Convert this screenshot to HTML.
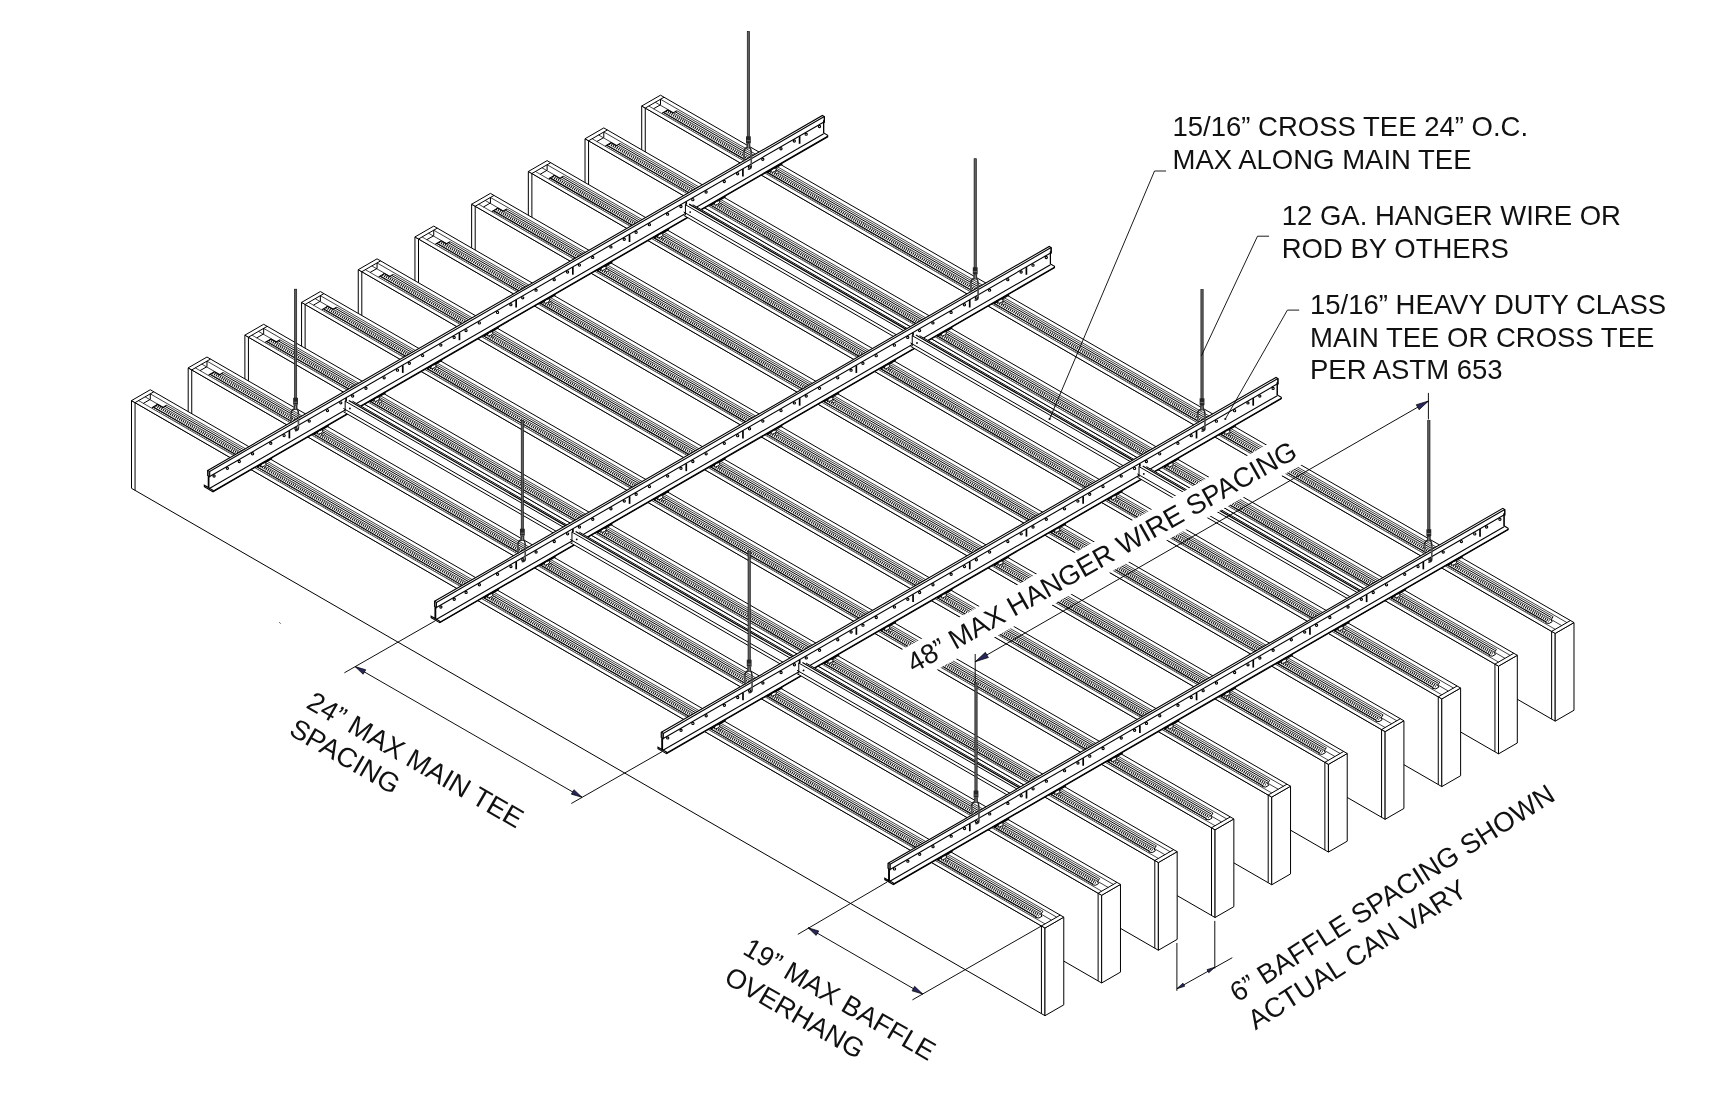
<!DOCTYPE html>
<html><head><meta charset="utf-8"><title>Baffle ceiling isometric</title>
<style>
html,body{margin:0;padding:0;background:#fff;}
body{width:1710px;height:1094px;overflow:hidden;font-family:"Liberation Sans",sans-serif;}
svg{display:block}
svg text{font-family:"Liberation Sans",sans-serif;fill:#111;}
</style></head><body>
<svg width="1710" height="1094" viewBox="0 0 1710 1094">
<rect width="1710" height="1094" fill="#fff"/>
<g stroke-linecap="butt" stroke-linejoin="miter">
<polygon points="641.71,106.03 1555.19,633.43 1555.19,721.13 641.71,193.73" fill="#fff" stroke="#000" stroke-width="1.0" />
<polygon points="1555.19,633.43 1573.99,622.58 1573.99,710.28 1555.19,721.13" fill="#fff" stroke="#000" stroke-width="1.0" />
<polygon points="641.71,106.03 1555.19,633.43 1573.99,622.58 660.5,95.18" fill="#fff" stroke="#000" stroke-width="1.0" />
<line x1="645.26" y1="108.08" x2="645.26" y2="195.78" stroke="#000" stroke-width="1.0" />
<line x1="1551.64" y1="631.38" x2="1551.64" y2="719.08" stroke="#000" stroke-width="1.0" />
<line x1="645.26" y1="108.08" x2="664.05" y2="97.23" stroke="#000" stroke-width="1.0" />
<line x1="1551.64" y1="631.38" x2="1570.44" y2="620.53" stroke="#000" stroke-width="1.0" />
<line x1="648.81" y1="106.03" x2="1555.19" y2="629.33" stroke="#000" stroke-width="0.7" />
<line x1="660.5" y1="99.28" x2="1566.89" y2="622.58" stroke="#000" stroke-width="0.75" />
<line x1="655.31" y1="102.28" x2="1561.69" y2="625.58" stroke="#000" stroke-width="0.75" />
<line x1="660.5" y1="99.28" x2="660.5" y2="104.78" stroke="#000" stroke-width="1.0" />
<line x1="660.5" y1="104.78" x2="653.57" y2="108.78" stroke="#000" stroke-width="1.0" />
<line x1="662.62" y1="112.96" x2="1545.8" y2="622.86" stroke="#000" stroke-width="1.4" stroke-dasharray="0.45 1.63"/>
<line x1="666.13" y1="110.93" x2="1549.3" y2="620.83" stroke="#000" stroke-width="2.8" stroke-dasharray="1.0 1.08"/>
<line x1="663.53" y1="112.43" x2="1546.71" y2="622.33" stroke="#000" stroke-width="1.2" />
<line x1="675.14" y1="111.73" x2="1551.38" y2="617.63" stroke="#000" stroke-width="1.0" />
<line x1="676.87" y1="110.73" x2="1553.12" y2="616.63" stroke="#000" stroke-width="0.75" />
<polyline points="662.15,113.23 667.86,109.93 673.06,112.93 676.87,110.73" fill="none" stroke="#000" stroke-width="1.1" />
<polyline points="1545.67,622.93 1549.13,623.43 1552.16,621.68 1551.04,619.83 1553.12,616.63" fill="none" stroke="#000" stroke-width="1.0" />
<polygon points="585.02,138.76 1498.5,666.16 1498.5,753.86 585.02,226.46" fill="#fff" stroke="#000" stroke-width="1.0" />
<polygon points="1498.5,666.16 1517.3,655.31 1517.3,743.01 1498.5,753.86" fill="#fff" stroke="#000" stroke-width="1.0" />
<polygon points="585.02,138.76 1498.5,666.16 1517.3,655.31 603.81,127.91" fill="#fff" stroke="#000" stroke-width="1.0" />
<line x1="588.57" y1="140.81" x2="588.57" y2="228.51" stroke="#000" stroke-width="1.0" />
<line x1="1494.95" y1="664.11" x2="1494.95" y2="751.81" stroke="#000" stroke-width="1.0" />
<line x1="588.57" y1="140.81" x2="607.36" y2="129.96" stroke="#000" stroke-width="1.0" />
<line x1="1494.95" y1="664.11" x2="1513.75" y2="653.26" stroke="#000" stroke-width="1.0" />
<line x1="592.12" y1="138.76" x2="1498.5" y2="662.06" stroke="#000" stroke-width="0.7" />
<line x1="603.81" y1="132.01" x2="1510.2" y2="655.31" stroke="#000" stroke-width="0.75" />
<line x1="598.62" y1="135.01" x2="1505" y2="658.31" stroke="#000" stroke-width="0.75" />
<line x1="603.81" y1="132.01" x2="603.81" y2="137.51" stroke="#000" stroke-width="1.0" />
<line x1="603.81" y1="137.51" x2="596.88" y2="141.51" stroke="#000" stroke-width="1.0" />
<line x1="605.93" y1="145.69" x2="1489.11" y2="655.59" stroke="#000" stroke-width="1.4" stroke-dasharray="0.45 1.63"/>
<line x1="609.44" y1="143.66" x2="1492.61" y2="653.56" stroke="#000" stroke-width="2.8" stroke-dasharray="1.0 1.08"/>
<line x1="606.84" y1="145.16" x2="1490.02" y2="655.06" stroke="#000" stroke-width="1.2" />
<line x1="618.45" y1="144.46" x2="1494.69" y2="650.36" stroke="#000" stroke-width="1.0" />
<line x1="620.18" y1="143.46" x2="1496.43" y2="649.36" stroke="#000" stroke-width="0.75" />
<polyline points="605.46,145.96 611.17,142.66 616.37,145.66 620.18,143.46" fill="none" stroke="#000" stroke-width="1.1" />
<polyline points="1488.98,655.66 1492.44,656.16 1495.47,654.41 1494.35,652.56 1496.43,649.36" fill="none" stroke="#000" stroke-width="1.0" />
<polygon points="528.33,171.49 1441.81,698.89 1441.81,786.59 528.33,259.19" fill="#fff" stroke="#000" stroke-width="1.0" />
<polygon points="1441.81,698.89 1460.61,688.04 1460.61,775.74 1441.81,786.59" fill="#fff" stroke="#000" stroke-width="1.0" />
<polygon points="528.33,171.49 1441.81,698.89 1460.61,688.04 547.12,160.64" fill="#fff" stroke="#000" stroke-width="1.0" />
<line x1="531.88" y1="173.54" x2="531.88" y2="261.24" stroke="#000" stroke-width="1.0" />
<line x1="1438.26" y1="696.84" x2="1438.26" y2="784.54" stroke="#000" stroke-width="1.0" />
<line x1="531.88" y1="173.54" x2="550.67" y2="162.69" stroke="#000" stroke-width="1.0" />
<line x1="1438.26" y1="696.84" x2="1457.06" y2="685.99" stroke="#000" stroke-width="1.0" />
<line x1="535.43" y1="171.49" x2="1441.81" y2="694.79" stroke="#000" stroke-width="0.7" />
<line x1="547.12" y1="164.74" x2="1453.51" y2="688.04" stroke="#000" stroke-width="0.75" />
<line x1="541.93" y1="167.74" x2="1448.31" y2="691.04" stroke="#000" stroke-width="0.75" />
<line x1="547.12" y1="164.74" x2="547.12" y2="170.24" stroke="#000" stroke-width="1.0" />
<line x1="547.12" y1="170.24" x2="540.19" y2="174.24" stroke="#000" stroke-width="1.0" />
<line x1="549.24" y1="178.42" x2="1432.42" y2="688.32" stroke="#000" stroke-width="1.4" stroke-dasharray="0.45 1.63"/>
<line x1="552.75" y1="176.39" x2="1435.92" y2="686.29" stroke="#000" stroke-width="2.8" stroke-dasharray="1.0 1.08"/>
<line x1="550.15" y1="177.89" x2="1433.33" y2="687.79" stroke="#000" stroke-width="1.2" />
<line x1="561.76" y1="177.19" x2="1438" y2="683.09" stroke="#000" stroke-width="1.0" />
<line x1="563.49" y1="176.19" x2="1439.74" y2="682.09" stroke="#000" stroke-width="0.75" />
<polyline points="548.77,178.69 554.48,175.39 559.68,178.39 563.49,176.19" fill="none" stroke="#000" stroke-width="1.1" />
<polyline points="1432.29,688.39 1435.75,688.89 1438.78,687.14 1437.66,685.29 1439.74,682.09" fill="none" stroke="#000" stroke-width="1.0" />
<polygon points="471.64,204.22 1385.12,731.62 1385.12,819.32 471.64,291.92" fill="#fff" stroke="#000" stroke-width="1.0" />
<polygon points="1385.12,731.62 1403.92,720.77 1403.92,808.47 1385.12,819.32" fill="#fff" stroke="#000" stroke-width="1.0" />
<polygon points="471.64,204.22 1385.12,731.62 1403.92,720.77 490.43,193.37" fill="#fff" stroke="#000" stroke-width="1.0" />
<line x1="475.19" y1="206.27" x2="475.19" y2="293.97" stroke="#000" stroke-width="1.0" />
<line x1="1381.57" y1="729.57" x2="1381.57" y2="817.27" stroke="#000" stroke-width="1.0" />
<line x1="475.19" y1="206.27" x2="493.98" y2="195.42" stroke="#000" stroke-width="1.0" />
<line x1="1381.57" y1="729.57" x2="1400.37" y2="718.72" stroke="#000" stroke-width="1.0" />
<line x1="478.74" y1="204.22" x2="1385.12" y2="727.52" stroke="#000" stroke-width="0.7" />
<line x1="490.43" y1="197.47" x2="1396.82" y2="720.77" stroke="#000" stroke-width="0.75" />
<line x1="485.24" y1="200.47" x2="1391.62" y2="723.77" stroke="#000" stroke-width="0.75" />
<line x1="490.43" y1="197.47" x2="490.43" y2="202.97" stroke="#000" stroke-width="1.0" />
<line x1="490.43" y1="202.97" x2="483.5" y2="206.97" stroke="#000" stroke-width="1.0" />
<line x1="492.55" y1="211.15" x2="1375.73" y2="721.05" stroke="#000" stroke-width="1.4" stroke-dasharray="0.45 1.63"/>
<line x1="496.06" y1="209.12" x2="1379.23" y2="719.02" stroke="#000" stroke-width="2.8" stroke-dasharray="1.0 1.08"/>
<line x1="493.46" y1="210.62" x2="1376.64" y2="720.52" stroke="#000" stroke-width="1.2" />
<line x1="505.07" y1="209.92" x2="1381.31" y2="715.82" stroke="#000" stroke-width="1.0" />
<line x1="506.8" y1="208.92" x2="1383.05" y2="714.82" stroke="#000" stroke-width="0.75" />
<polyline points="492.08,211.42 497.79,208.12 502.99,211.12 506.8,208.92" fill="none" stroke="#000" stroke-width="1.1" />
<polyline points="1375.6,721.12 1379.06,721.62 1382.09,719.87 1380.97,718.02 1383.05,714.82" fill="none" stroke="#000" stroke-width="1.0" />
<polygon points="414.95,236.95 1328.43,764.35 1328.43,852.05 414.95,324.65" fill="#fff" stroke="#000" stroke-width="1.0" />
<polygon points="1328.43,764.35 1347.23,753.5 1347.23,841.2 1328.43,852.05" fill="#fff" stroke="#000" stroke-width="1.0" />
<polygon points="414.95,236.95 1328.43,764.35 1347.23,753.5 433.74,226.1" fill="#fff" stroke="#000" stroke-width="1.0" />
<line x1="418.5" y1="239" x2="418.5" y2="326.7" stroke="#000" stroke-width="1.0" />
<line x1="1324.88" y1="762.3" x2="1324.88" y2="850" stroke="#000" stroke-width="1.0" />
<line x1="418.5" y1="239" x2="437.29" y2="228.15" stroke="#000" stroke-width="1.0" />
<line x1="1324.88" y1="762.3" x2="1343.68" y2="751.45" stroke="#000" stroke-width="1.0" />
<line x1="422.05" y1="236.95" x2="1328.43" y2="760.25" stroke="#000" stroke-width="0.7" />
<line x1="433.74" y1="230.2" x2="1340.13" y2="753.5" stroke="#000" stroke-width="0.75" />
<line x1="428.55" y1="233.2" x2="1334.93" y2="756.5" stroke="#000" stroke-width="0.75" />
<line x1="433.74" y1="230.2" x2="433.74" y2="235.7" stroke="#000" stroke-width="1.0" />
<line x1="433.74" y1="235.7" x2="426.81" y2="239.7" stroke="#000" stroke-width="1.0" />
<line x1="435.86" y1="243.88" x2="1319.04" y2="753.78" stroke="#000" stroke-width="1.4" stroke-dasharray="0.45 1.63"/>
<line x1="439.37" y1="241.85" x2="1322.54" y2="751.75" stroke="#000" stroke-width="2.8" stroke-dasharray="1.0 1.08"/>
<line x1="436.77" y1="243.35" x2="1319.95" y2="753.25" stroke="#000" stroke-width="1.2" />
<line x1="448.38" y1="242.65" x2="1324.62" y2="748.55" stroke="#000" stroke-width="1.0" />
<line x1="450.11" y1="241.65" x2="1326.36" y2="747.55" stroke="#000" stroke-width="0.75" />
<polyline points="435.39,244.15 441.1,240.85 446.3,243.85 450.11,241.65" fill="none" stroke="#000" stroke-width="1.1" />
<polyline points="1318.91,753.85 1322.37,754.35 1325.4,752.6 1324.28,750.75 1326.36,747.55" fill="none" stroke="#000" stroke-width="1.0" />
<polygon points="358.26,269.68 1271.74,797.08 1271.74,884.78 358.26,357.38" fill="#fff" stroke="#000" stroke-width="1.0" />
<polygon points="1271.74,797.08 1290.54,786.23 1290.54,873.93 1271.74,884.78" fill="#fff" stroke="#000" stroke-width="1.0" />
<polygon points="358.26,269.68 1271.74,797.08 1290.54,786.23 377.05,258.83" fill="#fff" stroke="#000" stroke-width="1.0" />
<line x1="361.81" y1="271.73" x2="361.81" y2="359.43" stroke="#000" stroke-width="1.0" />
<line x1="1268.19" y1="795.03" x2="1268.19" y2="882.73" stroke="#000" stroke-width="1.0" />
<line x1="361.81" y1="271.73" x2="380.6" y2="260.88" stroke="#000" stroke-width="1.0" />
<line x1="1268.19" y1="795.03" x2="1286.99" y2="784.18" stroke="#000" stroke-width="1.0" />
<line x1="365.36" y1="269.68" x2="1271.74" y2="792.98" stroke="#000" stroke-width="0.7" />
<line x1="377.05" y1="262.93" x2="1283.44" y2="786.23" stroke="#000" stroke-width="0.75" />
<line x1="371.86" y1="265.93" x2="1278.24" y2="789.23" stroke="#000" stroke-width="0.75" />
<line x1="377.05" y1="262.93" x2="377.05" y2="268.43" stroke="#000" stroke-width="1.0" />
<line x1="377.05" y1="268.43" x2="370.12" y2="272.43" stroke="#000" stroke-width="1.0" />
<line x1="379.17" y1="276.61" x2="1262.35" y2="786.5" stroke="#000" stroke-width="1.4" stroke-dasharray="0.45 1.63"/>
<line x1="382.68" y1="274.58" x2="1265.85" y2="784.48" stroke="#000" stroke-width="2.8" stroke-dasharray="1.0 1.08"/>
<line x1="380.08" y1="276.08" x2="1263.26" y2="785.98" stroke="#000" stroke-width="1.2" />
<line x1="391.69" y1="275.38" x2="1267.93" y2="781.28" stroke="#000" stroke-width="1.0" />
<line x1="393.42" y1="274.38" x2="1269.67" y2="780.28" stroke="#000" stroke-width="0.75" />
<polyline points="378.7,276.88 384.41,273.58 389.61,276.58 393.42,274.38" fill="none" stroke="#000" stroke-width="1.1" />
<polyline points="1262.22,786.58 1265.68,787.08 1268.71,785.33 1267.59,783.48 1269.67,780.28" fill="none" stroke="#000" stroke-width="1.0" />
<polygon points="301.57,302.41 1215.05,829.81 1215.05,917.51 301.57,390.11" fill="#fff" stroke="#000" stroke-width="1.0" />
<polygon points="1215.05,829.81 1233.85,818.96 1233.85,906.66 1215.05,917.51" fill="#fff" stroke="#000" stroke-width="1.0" />
<polygon points="301.57,302.41 1215.05,829.81 1233.85,818.96 320.36,291.56" fill="#fff" stroke="#000" stroke-width="1.0" />
<line x1="305.12" y1="304.46" x2="305.12" y2="392.16" stroke="#000" stroke-width="1.0" />
<line x1="1211.5" y1="827.76" x2="1211.5" y2="915.46" stroke="#000" stroke-width="1.0" />
<line x1="305.12" y1="304.46" x2="323.91" y2="293.61" stroke="#000" stroke-width="1.0" />
<line x1="1211.5" y1="827.76" x2="1230.3" y2="816.91" stroke="#000" stroke-width="1.0" />
<line x1="308.67" y1="302.41" x2="1215.05" y2="825.71" stroke="#000" stroke-width="0.7" />
<line x1="320.36" y1="295.66" x2="1226.75" y2="818.96" stroke="#000" stroke-width="0.75" />
<line x1="315.17" y1="298.66" x2="1221.55" y2="821.96" stroke="#000" stroke-width="0.75" />
<line x1="320.36" y1="295.66" x2="320.36" y2="301.16" stroke="#000" stroke-width="1.0" />
<line x1="320.36" y1="301.16" x2="313.43" y2="305.16" stroke="#000" stroke-width="1.0" />
<line x1="322.48" y1="309.34" x2="1205.66" y2="819.24" stroke="#000" stroke-width="1.4" stroke-dasharray="0.45 1.63"/>
<line x1="325.99" y1="307.31" x2="1209.16" y2="817.21" stroke="#000" stroke-width="2.8" stroke-dasharray="1.0 1.08"/>
<line x1="323.39" y1="308.81" x2="1206.57" y2="818.71" stroke="#000" stroke-width="1.2" />
<line x1="335" y1="308.11" x2="1211.24" y2="814.01" stroke="#000" stroke-width="1.0" />
<line x1="336.73" y1="307.11" x2="1212.98" y2="813.01" stroke="#000" stroke-width="0.75" />
<polyline points="322.01,309.61 327.72,306.31 332.92,309.31 336.73,307.11" fill="none" stroke="#000" stroke-width="1.1" />
<polyline points="1205.53,819.31 1208.99,819.81 1212.02,818.06 1210.9,816.21 1212.98,813.01" fill="none" stroke="#000" stroke-width="1.0" />
<polygon points="244.88,335.14 1158.36,862.54 1158.36,950.24 244.88,422.84" fill="#fff" stroke="#000" stroke-width="1.0" />
<polygon points="1158.36,862.54 1177.16,851.69 1177.16,939.39 1158.36,950.24" fill="#fff" stroke="#000" stroke-width="1.0" />
<polygon points="244.88,335.14 1158.36,862.54 1177.16,851.69 263.67,324.29" fill="#fff" stroke="#000" stroke-width="1.0" />
<line x1="248.43" y1="337.19" x2="248.43" y2="424.89" stroke="#000" stroke-width="1.0" />
<line x1="1154.81" y1="860.49" x2="1154.81" y2="948.19" stroke="#000" stroke-width="1.0" />
<line x1="248.43" y1="337.19" x2="267.22" y2="326.34" stroke="#000" stroke-width="1.0" />
<line x1="1154.81" y1="860.49" x2="1173.61" y2="849.64" stroke="#000" stroke-width="1.0" />
<line x1="251.98" y1="335.14" x2="1158.36" y2="858.44" stroke="#000" stroke-width="0.7" />
<line x1="263.67" y1="328.39" x2="1170.05" y2="851.69" stroke="#000" stroke-width="0.75" />
<line x1="258.48" y1="331.39" x2="1164.86" y2="854.69" stroke="#000" stroke-width="0.75" />
<line x1="263.67" y1="328.39" x2="263.67" y2="333.89" stroke="#000" stroke-width="1.0" />
<line x1="263.67" y1="333.89" x2="256.74" y2="337.89" stroke="#000" stroke-width="1.0" />
<line x1="265.79" y1="342.07" x2="1148.97" y2="851.97" stroke="#000" stroke-width="1.4" stroke-dasharray="0.45 1.63"/>
<line x1="269.3" y1="340.04" x2="1152.47" y2="849.94" stroke="#000" stroke-width="2.8" stroke-dasharray="1.0 1.08"/>
<line x1="266.7" y1="341.54" x2="1149.88" y2="851.44" stroke="#000" stroke-width="1.2" />
<line x1="278.31" y1="340.84" x2="1154.55" y2="846.74" stroke="#000" stroke-width="1.0" />
<line x1="280.04" y1="339.84" x2="1156.29" y2="845.74" stroke="#000" stroke-width="0.75" />
<polyline points="265.32,342.34 271.03,339.04 276.23,342.04 280.04,339.84" fill="none" stroke="#000" stroke-width="1.1" />
<polyline points="1148.84,852.04 1152.3,852.54 1155.33,850.79 1154.21,848.94 1156.29,845.74" fill="none" stroke="#000" stroke-width="1.0" />
<polygon points="188.19,367.87 1101.67,895.27 1101.67,982.97 188.19,455.57" fill="#fff" stroke="#000" stroke-width="1.0" />
<polygon points="1101.67,895.27 1120.47,884.42 1120.47,972.12 1101.67,982.97" fill="#fff" stroke="#000" stroke-width="1.0" />
<polygon points="188.19,367.87 1101.67,895.27 1120.47,884.42 206.98,357.02" fill="#fff" stroke="#000" stroke-width="1.0" />
<line x1="191.74" y1="369.92" x2="191.74" y2="457.62" stroke="#000" stroke-width="1.0" />
<line x1="1098.12" y1="893.22" x2="1098.12" y2="980.92" stroke="#000" stroke-width="1.0" />
<line x1="191.74" y1="369.92" x2="210.53" y2="359.07" stroke="#000" stroke-width="1.0" />
<line x1="1098.12" y1="893.22" x2="1116.92" y2="882.37" stroke="#000" stroke-width="1.0" />
<line x1="195.29" y1="367.87" x2="1101.67" y2="891.17" stroke="#000" stroke-width="0.7" />
<line x1="206.98" y1="361.12" x2="1113.36" y2="884.42" stroke="#000" stroke-width="0.75" />
<line x1="201.79" y1="364.12" x2="1108.17" y2="887.42" stroke="#000" stroke-width="0.75" />
<line x1="206.98" y1="361.12" x2="206.98" y2="366.62" stroke="#000" stroke-width="1.0" />
<line x1="206.98" y1="366.62" x2="200.05" y2="370.62" stroke="#000" stroke-width="1.0" />
<line x1="209.1" y1="374.8" x2="1092.28" y2="884.69" stroke="#000" stroke-width="1.4" stroke-dasharray="0.45 1.63"/>
<line x1="212.61" y1="372.77" x2="1095.78" y2="882.67" stroke="#000" stroke-width="2.8" stroke-dasharray="1.0 1.08"/>
<line x1="210.01" y1="374.27" x2="1093.19" y2="884.17" stroke="#000" stroke-width="1.2" />
<line x1="221.62" y1="373.57" x2="1097.86" y2="879.47" stroke="#000" stroke-width="1.0" />
<line x1="223.35" y1="372.57" x2="1099.6" y2="878.47" stroke="#000" stroke-width="0.75" />
<polyline points="208.63,375.07 214.34,371.77 219.54,374.77 223.35,372.57" fill="none" stroke="#000" stroke-width="1.1" />
<polyline points="1092.15,884.77 1095.61,885.27 1098.64,883.52 1097.52,881.67 1099.6,878.47" fill="none" stroke="#000" stroke-width="1.0" />
<polygon points="131.5,400.6 1044.98,928 1044.98,1015.7 131.5,488.3" fill="#fff" stroke="#000" stroke-width="1.0" />
<polygon points="1044.98,928 1063.78,917.15 1063.78,1004.85 1044.98,1015.7" fill="#fff" stroke="#000" stroke-width="1.0" />
<polygon points="131.5,400.6 1044.98,928 1063.78,917.15 150.29,389.75" fill="#fff" stroke="#000" stroke-width="1.0" />
<line x1="135.05" y1="402.65" x2="135.05" y2="490.35" stroke="#000" stroke-width="1.0" />
<line x1="1041.43" y1="925.95" x2="1041.43" y2="1013.65" stroke="#000" stroke-width="1.0" />
<line x1="135.05" y1="402.65" x2="153.84" y2="391.8" stroke="#000" stroke-width="1.0" />
<line x1="1041.43" y1="925.95" x2="1060.23" y2="915.1" stroke="#000" stroke-width="1.0" />
<line x1="138.6" y1="400.6" x2="1044.98" y2="923.9" stroke="#000" stroke-width="0.7" />
<line x1="150.29" y1="393.85" x2="1056.67" y2="917.15" stroke="#000" stroke-width="0.75" />
<line x1="145.1" y1="396.85" x2="1051.48" y2="920.15" stroke="#000" stroke-width="0.75" />
<line x1="150.29" y1="393.85" x2="150.29" y2="399.35" stroke="#000" stroke-width="1.0" />
<line x1="150.29" y1="399.35" x2="143.36" y2="403.35" stroke="#000" stroke-width="1.0" />
<line x1="152.41" y1="407.53" x2="1035.59" y2="917.42" stroke="#000" stroke-width="1.4" stroke-dasharray="0.45 1.63"/>
<line x1="155.92" y1="405.5" x2="1039.09" y2="915.4" stroke="#000" stroke-width="2.8" stroke-dasharray="1.0 1.08"/>
<line x1="153.32" y1="407" x2="1036.5" y2="916.9" stroke="#000" stroke-width="1.2" />
<line x1="164.93" y1="406.3" x2="1041.17" y2="912.2" stroke="#000" stroke-width="1.0" />
<line x1="166.66" y1="405.3" x2="1042.91" y2="911.2" stroke="#000" stroke-width="0.75" />
<polyline points="151.94,407.8 157.65,404.5 162.85,407.5 166.66,405.3" fill="none" stroke="#000" stroke-width="1.1" />
<polyline points="1035.46,917.5 1038.92,918 1041.95,916.25 1040.83,914.4 1042.91,911.2" fill="none" stroke="#000" stroke-width="1.0" />
<line x1="256.81" y1="466.95" x2="271.97" y2="458.2" stroke="#000" stroke-width="1.9" />
<ellipse cx="263.48" cy="464.8" rx="3.0" ry="1.45" fill="#fff" stroke="#000" stroke-width="0.8" transform="rotate(-30 263.48 464.8)"/>
<ellipse cx="266.88" cy="466.8" rx="1.9" ry="1.0" fill="#fff" stroke="#000" stroke-width="0.7" transform="rotate(-30 266.88 466.8)"/>
<line x1="313.5" y1="434.22" x2="328.66" y2="425.47" stroke="#000" stroke-width="1.9" />
<ellipse cx="320.17" cy="432.07" rx="3.0" ry="1.45" fill="#fff" stroke="#000" stroke-width="0.8" transform="rotate(-30 320.17 432.07)"/>
<ellipse cx="323.57" cy="434.07" rx="1.9" ry="1.0" fill="#fff" stroke="#000" stroke-width="0.7" transform="rotate(-30 323.57 434.07)"/>
<line x1="370.19" y1="401.49" x2="385.35" y2="392.74" stroke="#000" stroke-width="1.9" />
<ellipse cx="376.86" cy="399.34" rx="3.0" ry="1.45" fill="#fff" stroke="#000" stroke-width="0.8" transform="rotate(-30 376.86 399.34)"/>
<ellipse cx="380.26" cy="401.34" rx="1.9" ry="1.0" fill="#fff" stroke="#000" stroke-width="0.7" transform="rotate(-30 380.26 401.34)"/>
<line x1="426.88" y1="368.76" x2="442.04" y2="360.01" stroke="#000" stroke-width="1.9" />
<ellipse cx="433.55" cy="366.61" rx="3.0" ry="1.45" fill="#fff" stroke="#000" stroke-width="0.8" transform="rotate(-30 433.55 366.61)"/>
<ellipse cx="436.95" cy="368.61" rx="1.9" ry="1.0" fill="#fff" stroke="#000" stroke-width="0.7" transform="rotate(-30 436.95 368.61)"/>
<line x1="483.57" y1="336.03" x2="498.73" y2="327.28" stroke="#000" stroke-width="1.9" />
<ellipse cx="490.24" cy="333.88" rx="3.0" ry="1.45" fill="#fff" stroke="#000" stroke-width="0.8" transform="rotate(-30 490.24 333.88)"/>
<ellipse cx="493.64" cy="335.88" rx="1.9" ry="1.0" fill="#fff" stroke="#000" stroke-width="0.7" transform="rotate(-30 493.64 335.88)"/>
<line x1="540.26" y1="303.3" x2="555.42" y2="294.55" stroke="#000" stroke-width="1.9" />
<ellipse cx="546.93" cy="301.15" rx="3.0" ry="1.45" fill="#fff" stroke="#000" stroke-width="0.8" transform="rotate(-30 546.93 301.15)"/>
<ellipse cx="550.33" cy="303.15" rx="1.9" ry="1.0" fill="#fff" stroke="#000" stroke-width="0.7" transform="rotate(-30 550.33 303.15)"/>
<line x1="596.95" y1="270.57" x2="612.11" y2="261.82" stroke="#000" stroke-width="1.9" />
<ellipse cx="603.62" cy="268.42" rx="3.0" ry="1.45" fill="#fff" stroke="#000" stroke-width="0.8" transform="rotate(-30 603.62 268.42)"/>
<ellipse cx="607.02" cy="270.42" rx="1.9" ry="1.0" fill="#fff" stroke="#000" stroke-width="0.7" transform="rotate(-30 607.02 270.42)"/>
<line x1="653.64" y1="237.84" x2="668.8" y2="229.09" stroke="#000" stroke-width="1.9" />
<ellipse cx="660.31" cy="235.69" rx="3.0" ry="1.45" fill="#fff" stroke="#000" stroke-width="0.8" transform="rotate(-30 660.31 235.69)"/>
<ellipse cx="663.71" cy="237.69" rx="1.9" ry="1.0" fill="#fff" stroke="#000" stroke-width="0.7" transform="rotate(-30 663.71 237.69)"/>
<line x1="710.33" y1="205.11" x2="725.49" y2="196.36" stroke="#000" stroke-width="1.9" />
<ellipse cx="717" cy="202.96" rx="3.0" ry="1.45" fill="#fff" stroke="#000" stroke-width="0.8" transform="rotate(-30 717 202.96)"/>
<ellipse cx="720.4" cy="204.96" rx="1.9" ry="1.0" fill="#fff" stroke="#000" stroke-width="0.7" transform="rotate(-30 720.4 204.96)"/>
<line x1="767.02" y1="172.38" x2="782.18" y2="163.63" stroke="#000" stroke-width="1.9" />
<ellipse cx="773.69" cy="170.23" rx="3.0" ry="1.45" fill="#fff" stroke="#000" stroke-width="0.8" transform="rotate(-30 773.69 170.23)"/>
<ellipse cx="777.09" cy="172.23" rx="1.9" ry="1.0" fill="#fff" stroke="#000" stroke-width="0.7" transform="rotate(-30 777.09 172.23)"/>
<line x1="483.63" y1="597.9" x2="498.78" y2="589.15" stroke="#000" stroke-width="1.9" />
<ellipse cx="490.29" cy="595.75" rx="3.0" ry="1.45" fill="#fff" stroke="#000" stroke-width="0.8" transform="rotate(-30 490.29 595.75)"/>
<ellipse cx="493.69" cy="597.75" rx="1.9" ry="1.0" fill="#fff" stroke="#000" stroke-width="0.7" transform="rotate(-30 493.69 597.75)"/>
<line x1="540.32" y1="565.17" x2="555.47" y2="556.42" stroke="#000" stroke-width="1.9" />
<ellipse cx="546.98" cy="563.02" rx="3.0" ry="1.45" fill="#fff" stroke="#000" stroke-width="0.8" transform="rotate(-30 546.98 563.02)"/>
<ellipse cx="550.38" cy="565.02" rx="1.9" ry="1.0" fill="#fff" stroke="#000" stroke-width="0.7" transform="rotate(-30 550.38 565.02)"/>
<line x1="597.01" y1="532.44" x2="612.16" y2="523.69" stroke="#000" stroke-width="1.9" />
<ellipse cx="603.67" cy="530.29" rx="3.0" ry="1.45" fill="#fff" stroke="#000" stroke-width="0.8" transform="rotate(-30 603.67 530.29)"/>
<ellipse cx="607.07" cy="532.29" rx="1.9" ry="1.0" fill="#fff" stroke="#000" stroke-width="0.7" transform="rotate(-30 607.07 532.29)"/>
<line x1="653.7" y1="499.71" x2="668.85" y2="490.96" stroke="#000" stroke-width="1.9" />
<ellipse cx="660.36" cy="497.56" rx="3.0" ry="1.45" fill="#fff" stroke="#000" stroke-width="0.8" transform="rotate(-30 660.36 497.56)"/>
<ellipse cx="663.76" cy="499.56" rx="1.9" ry="1.0" fill="#fff" stroke="#000" stroke-width="0.7" transform="rotate(-30 663.76 499.56)"/>
<line x1="710.39" y1="466.98" x2="725.54" y2="458.23" stroke="#000" stroke-width="1.9" />
<ellipse cx="717.05" cy="464.83" rx="3.0" ry="1.45" fill="#fff" stroke="#000" stroke-width="0.8" transform="rotate(-30 717.05 464.83)"/>
<ellipse cx="720.45" cy="466.83" rx="1.9" ry="1.0" fill="#fff" stroke="#000" stroke-width="0.7" transform="rotate(-30 720.45 466.83)"/>
<line x1="767.08" y1="434.25" x2="782.23" y2="425.5" stroke="#000" stroke-width="1.9" />
<ellipse cx="773.74" cy="432.1" rx="3.0" ry="1.45" fill="#fff" stroke="#000" stroke-width="0.8" transform="rotate(-30 773.74 432.1)"/>
<ellipse cx="777.14" cy="434.1" rx="1.9" ry="1.0" fill="#fff" stroke="#000" stroke-width="0.7" transform="rotate(-30 777.14 434.1)"/>
<line x1="823.77" y1="401.52" x2="838.92" y2="392.77" stroke="#000" stroke-width="1.9" />
<ellipse cx="830.43" cy="399.37" rx="3.0" ry="1.45" fill="#fff" stroke="#000" stroke-width="0.8" transform="rotate(-30 830.43 399.37)"/>
<ellipse cx="833.83" cy="401.37" rx="1.9" ry="1.0" fill="#fff" stroke="#000" stroke-width="0.7" transform="rotate(-30 833.83 401.37)"/>
<line x1="880.46" y1="368.79" x2="895.61" y2="360.04" stroke="#000" stroke-width="1.9" />
<ellipse cx="887.12" cy="366.64" rx="3.0" ry="1.45" fill="#fff" stroke="#000" stroke-width="0.8" transform="rotate(-30 887.12 366.64)"/>
<ellipse cx="890.52" cy="368.64" rx="1.9" ry="1.0" fill="#fff" stroke="#000" stroke-width="0.7" transform="rotate(-30 890.52 368.64)"/>
<line x1="937.15" y1="336.06" x2="952.3" y2="327.31" stroke="#000" stroke-width="1.9" />
<ellipse cx="943.81" cy="333.91" rx="3.0" ry="1.45" fill="#fff" stroke="#000" stroke-width="0.8" transform="rotate(-30 943.81 333.91)"/>
<ellipse cx="947.21" cy="335.91" rx="1.9" ry="1.0" fill="#fff" stroke="#000" stroke-width="0.7" transform="rotate(-30 947.21 335.91)"/>
<line x1="993.84" y1="303.33" x2="1008.99" y2="294.58" stroke="#000" stroke-width="1.9" />
<ellipse cx="1000.5" cy="301.18" rx="3.0" ry="1.45" fill="#fff" stroke="#000" stroke-width="0.8" transform="rotate(-30 1000.5 301.18)"/>
<ellipse cx="1003.9" cy="303.18" rx="1.9" ry="1.0" fill="#fff" stroke="#000" stroke-width="0.7" transform="rotate(-30 1003.9 303.18)"/>
<line x1="710.44" y1="728.85" x2="725.59" y2="720.1" stroke="#000" stroke-width="1.9" />
<ellipse cx="717.11" cy="726.7" rx="3.0" ry="1.45" fill="#fff" stroke="#000" stroke-width="0.8" transform="rotate(-30 717.11 726.7)"/>
<ellipse cx="720.51" cy="728.7" rx="1.9" ry="1.0" fill="#fff" stroke="#000" stroke-width="0.7" transform="rotate(-30 720.51 728.7)"/>
<line x1="767.13" y1="696.12" x2="782.28" y2="687.37" stroke="#000" stroke-width="1.9" />
<ellipse cx="773.8" cy="693.97" rx="3.0" ry="1.45" fill="#fff" stroke="#000" stroke-width="0.8" transform="rotate(-30 773.8 693.97)"/>
<ellipse cx="777.2" cy="695.97" rx="1.9" ry="1.0" fill="#fff" stroke="#000" stroke-width="0.7" transform="rotate(-30 777.2 695.97)"/>
<line x1="823.82" y1="663.39" x2="838.97" y2="654.64" stroke="#000" stroke-width="1.9" />
<ellipse cx="830.49" cy="661.24" rx="3.0" ry="1.45" fill="#fff" stroke="#000" stroke-width="0.8" transform="rotate(-30 830.49 661.24)"/>
<ellipse cx="833.89" cy="663.24" rx="1.9" ry="1.0" fill="#fff" stroke="#000" stroke-width="0.7" transform="rotate(-30 833.89 663.24)"/>
<line x1="880.51" y1="630.66" x2="895.66" y2="621.91" stroke="#000" stroke-width="1.9" />
<ellipse cx="887.18" cy="628.51" rx="3.0" ry="1.45" fill="#fff" stroke="#000" stroke-width="0.8" transform="rotate(-30 887.18 628.51)"/>
<ellipse cx="890.58" cy="630.51" rx="1.9" ry="1.0" fill="#fff" stroke="#000" stroke-width="0.7" transform="rotate(-30 890.58 630.51)"/>
<line x1="937.2" y1="597.93" x2="952.35" y2="589.18" stroke="#000" stroke-width="1.9" />
<ellipse cx="943.87" cy="595.78" rx="3.0" ry="1.45" fill="#fff" stroke="#000" stroke-width="0.8" transform="rotate(-30 943.87 595.78)"/>
<ellipse cx="947.27" cy="597.78" rx="1.9" ry="1.0" fill="#fff" stroke="#000" stroke-width="0.7" transform="rotate(-30 947.27 597.78)"/>
<line x1="993.89" y1="565.2" x2="1009.04" y2="556.45" stroke="#000" stroke-width="1.9" />
<ellipse cx="1000.56" cy="563.05" rx="3.0" ry="1.45" fill="#fff" stroke="#000" stroke-width="0.8" transform="rotate(-30 1000.56 563.05)"/>
<ellipse cx="1003.96" cy="565.05" rx="1.9" ry="1.0" fill="#fff" stroke="#000" stroke-width="0.7" transform="rotate(-30 1003.96 565.05)"/>
<line x1="1050.58" y1="532.47" x2="1065.73" y2="523.72" stroke="#000" stroke-width="1.9" />
<ellipse cx="1057.25" cy="530.32" rx="3.0" ry="1.45" fill="#fff" stroke="#000" stroke-width="0.8" transform="rotate(-30 1057.25 530.32)"/>
<ellipse cx="1060.65" cy="532.32" rx="1.9" ry="1.0" fill="#fff" stroke="#000" stroke-width="0.7" transform="rotate(-30 1060.65 532.32)"/>
<line x1="1107.27" y1="499.74" x2="1122.42" y2="490.99" stroke="#000" stroke-width="1.9" />
<ellipse cx="1113.94" cy="497.59" rx="3.0" ry="1.45" fill="#fff" stroke="#000" stroke-width="0.8" transform="rotate(-30 1113.94 497.59)"/>
<ellipse cx="1117.34" cy="499.59" rx="1.9" ry="1.0" fill="#fff" stroke="#000" stroke-width="0.7" transform="rotate(-30 1117.34 499.59)"/>
<line x1="1163.96" y1="467.01" x2="1179.11" y2="458.26" stroke="#000" stroke-width="1.9" />
<ellipse cx="1170.63" cy="464.86" rx="3.0" ry="1.45" fill="#fff" stroke="#000" stroke-width="0.8" transform="rotate(-30 1170.63 464.86)"/>
<ellipse cx="1174.03" cy="466.86" rx="1.9" ry="1.0" fill="#fff" stroke="#000" stroke-width="0.7" transform="rotate(-30 1174.03 466.86)"/>
<line x1="1220.65" y1="434.28" x2="1235.8" y2="425.53" stroke="#000" stroke-width="1.9" />
<ellipse cx="1227.32" cy="432.13" rx="3.0" ry="1.45" fill="#fff" stroke="#000" stroke-width="0.8" transform="rotate(-30 1227.32 432.13)"/>
<ellipse cx="1230.72" cy="434.13" rx="1.9" ry="1.0" fill="#fff" stroke="#000" stroke-width="0.7" transform="rotate(-30 1230.72 434.13)"/>
<line x1="937.25" y1="859.8" x2="952.41" y2="851.05" stroke="#000" stroke-width="1.9" />
<ellipse cx="943.92" cy="857.65" rx="3.0" ry="1.45" fill="#fff" stroke="#000" stroke-width="0.8" transform="rotate(-30 943.92 857.65)"/>
<ellipse cx="947.32" cy="859.65" rx="1.9" ry="1.0" fill="#fff" stroke="#000" stroke-width="0.7" transform="rotate(-30 947.32 859.65)"/>
<line x1="993.94" y1="827.07" x2="1009.1" y2="818.32" stroke="#000" stroke-width="1.9" />
<ellipse cx="1000.61" cy="824.92" rx="3.0" ry="1.45" fill="#fff" stroke="#000" stroke-width="0.8" transform="rotate(-30 1000.61 824.92)"/>
<ellipse cx="1004.01" cy="826.92" rx="1.9" ry="1.0" fill="#fff" stroke="#000" stroke-width="0.7" transform="rotate(-30 1004.01 826.92)"/>
<line x1="1050.63" y1="794.34" x2="1065.79" y2="785.59" stroke="#000" stroke-width="1.9" />
<ellipse cx="1057.3" cy="792.19" rx="3.0" ry="1.45" fill="#fff" stroke="#000" stroke-width="0.8" transform="rotate(-30 1057.3 792.19)"/>
<ellipse cx="1060.7" cy="794.19" rx="1.9" ry="1.0" fill="#fff" stroke="#000" stroke-width="0.7" transform="rotate(-30 1060.7 794.19)"/>
<line x1="1107.32" y1="761.61" x2="1122.48" y2="752.86" stroke="#000" stroke-width="1.9" />
<ellipse cx="1113.99" cy="759.46" rx="3.0" ry="1.45" fill="#fff" stroke="#000" stroke-width="0.8" transform="rotate(-30 1113.99 759.46)"/>
<ellipse cx="1117.39" cy="761.46" rx="1.9" ry="1.0" fill="#fff" stroke="#000" stroke-width="0.7" transform="rotate(-30 1117.39 761.46)"/>
<line x1="1164.01" y1="728.88" x2="1179.17" y2="720.13" stroke="#000" stroke-width="1.9" />
<ellipse cx="1170.68" cy="726.73" rx="3.0" ry="1.45" fill="#fff" stroke="#000" stroke-width="0.8" transform="rotate(-30 1170.68 726.73)"/>
<ellipse cx="1174.08" cy="728.73" rx="1.9" ry="1.0" fill="#fff" stroke="#000" stroke-width="0.7" transform="rotate(-30 1174.08 728.73)"/>
<line x1="1220.7" y1="696.15" x2="1235.86" y2="687.4" stroke="#000" stroke-width="1.9" />
<ellipse cx="1227.37" cy="694" rx="3.0" ry="1.45" fill="#fff" stroke="#000" stroke-width="0.8" transform="rotate(-30 1227.37 694)"/>
<ellipse cx="1230.77" cy="696" rx="1.9" ry="1.0" fill="#fff" stroke="#000" stroke-width="0.7" transform="rotate(-30 1230.77 696)"/>
<line x1="1277.39" y1="663.42" x2="1292.55" y2="654.67" stroke="#000" stroke-width="1.9" />
<ellipse cx="1284.06" cy="661.27" rx="3.0" ry="1.45" fill="#fff" stroke="#000" stroke-width="0.8" transform="rotate(-30 1284.06 661.27)"/>
<ellipse cx="1287.46" cy="663.27" rx="1.9" ry="1.0" fill="#fff" stroke="#000" stroke-width="0.7" transform="rotate(-30 1287.46 663.27)"/>
<line x1="1334.08" y1="630.69" x2="1349.24" y2="621.94" stroke="#000" stroke-width="1.9" />
<ellipse cx="1340.75" cy="628.54" rx="3.0" ry="1.45" fill="#fff" stroke="#000" stroke-width="0.8" transform="rotate(-30 1340.75 628.54)"/>
<ellipse cx="1344.15" cy="630.54" rx="1.9" ry="1.0" fill="#fff" stroke="#000" stroke-width="0.7" transform="rotate(-30 1344.15 630.54)"/>
<line x1="1390.77" y1="597.96" x2="1405.93" y2="589.21" stroke="#000" stroke-width="1.9" />
<ellipse cx="1397.44" cy="595.81" rx="3.0" ry="1.45" fill="#fff" stroke="#000" stroke-width="0.8" transform="rotate(-30 1397.44 595.81)"/>
<ellipse cx="1400.84" cy="597.81" rx="1.9" ry="1.0" fill="#fff" stroke="#000" stroke-width="0.7" transform="rotate(-30 1400.84 597.81)"/>
<line x1="1447.46" y1="565.23" x2="1462.62" y2="556.48" stroke="#000" stroke-width="1.9" />
<ellipse cx="1454.13" cy="563.08" rx="3.0" ry="1.45" fill="#fff" stroke="#000" stroke-width="0.8" transform="rotate(-30 1454.13 563.08)"/>
<ellipse cx="1457.53" cy="565.08" rx="1.9" ry="1.0" fill="#fff" stroke="#000" stroke-width="0.7" transform="rotate(-30 1457.53 565.08)"/>
<polygon points="207.71,470.4 822.42,115.5 824.32,116.6 824.32,121.7 823.63,121.3 823.63,133 827.7,135.35 827.7,136.85 212.99,491.75 204.33,486.75 204.33,485.25 208.4,487.6 208.4,475.9 207.71,475.5" fill="#fff" stroke="#000" stroke-width="1.1" />
<line x1="209.62" y1="471.5" x2="824.32" y2="116.6" stroke="#000" stroke-width="1.1" />
<line x1="209.62" y1="476.6" x2="824.32" y2="121.7" stroke="#000" stroke-width="1.1" />
<line x1="208.92" y1="488.7" x2="823.63" y2="133.8" stroke="#000" stroke-width="1.1" />
<line x1="212.99" y1="491.2" x2="827.7" y2="136.3" stroke="#000" stroke-width="1.1" />
<polyline points="207.71,470.4 209.62,471.5 209.62,476.6 208.92,476.2 208.92,487.9 212.99,490.25 212.99,491.75" fill="none" stroke="#000" stroke-width="1.1" />
<polygon points="207.71,470.4 209.62,471.5 209.62,476.6 207.71,475.5" fill="#777" stroke="#000" stroke-width="0.8" />
<line x1="208.4" y1="487.6" x2="208.4" y2="475.9" stroke="#000" stroke-width="1.1" />
<polyline points="824.32,116.6 824.32,121.7 823.63,121.3 823.63,133" fill="none" stroke="#000" stroke-width="1.1" />
<circle cx="214.07" cy="476.03" r="1.1" fill="#fff" stroke="#000" stroke-width="1.15"/>
<circle cx="227.4" cy="468.33" r="1.1" fill="#fff" stroke="#000" stroke-width="1.15"/>
<circle cx="239.27" cy="461.48" r="1.1" fill="#fff" stroke="#000" stroke-width="1.15"/>
<circle cx="252.57" cy="453.8" r="1.1" fill="#fff" stroke="#000" stroke-width="1.15"/>
<circle cx="270.76" cy="443.3" r="1.1" fill="#fff" stroke="#000" stroke-width="1.15"/>
<circle cx="284.09" cy="435.6" r="1.1" fill="#fff" stroke="#000" stroke-width="1.15"/>
<circle cx="295.96" cy="428.75" r="1.1" fill="#fff" stroke="#000" stroke-width="1.15"/>
<line x1="289.38" y1="430.75" x2="289.38" y2="438.35" stroke="#000" stroke-width="1.7" />
<circle cx="309.26" cy="421.07" r="1.1" fill="#fff" stroke="#000" stroke-width="1.15"/>
<circle cx="327.45" cy="410.57" r="1.1" fill="#fff" stroke="#000" stroke-width="1.15"/>
<circle cx="340.78" cy="402.87" r="1.1" fill="#fff" stroke="#000" stroke-width="1.15"/>
<circle cx="352.65" cy="396.02" r="1.1" fill="#fff" stroke="#000" stroke-width="1.15"/>
<line x1="346.07" y1="398.02" x2="346.07" y2="405.62" stroke="#000" stroke-width="1.7" />
<circle cx="365.95" cy="388.34" r="1.1" fill="#fff" stroke="#000" stroke-width="1.15"/>
<circle cx="384.14" cy="377.84" r="1.1" fill="#fff" stroke="#000" stroke-width="1.15"/>
<circle cx="397.47" cy="370.14" r="1.1" fill="#fff" stroke="#000" stroke-width="1.15"/>
<circle cx="409.34" cy="363.29" r="1.1" fill="#fff" stroke="#000" stroke-width="1.15"/>
<line x1="402.76" y1="365.29" x2="402.76" y2="372.89" stroke="#000" stroke-width="1.7" />
<circle cx="422.64" cy="355.61" r="1.1" fill="#fff" stroke="#000" stroke-width="1.15"/>
<circle cx="440.83" cy="345.11" r="1.1" fill="#fff" stroke="#000" stroke-width="1.15"/>
<circle cx="454.16" cy="337.41" r="1.1" fill="#fff" stroke="#000" stroke-width="1.15"/>
<circle cx="466.03" cy="330.56" r="1.1" fill="#fff" stroke="#000" stroke-width="1.15"/>
<line x1="459.45" y1="332.56" x2="459.45" y2="340.16" stroke="#000" stroke-width="1.7" />
<circle cx="479.33" cy="322.88" r="1.1" fill="#fff" stroke="#000" stroke-width="1.15"/>
<circle cx="497.52" cy="312.38" r="1.1" fill="#fff" stroke="#000" stroke-width="1.15"/>
<circle cx="510.85" cy="304.68" r="1.1" fill="#fff" stroke="#000" stroke-width="1.15"/>
<circle cx="522.72" cy="297.83" r="1.1" fill="#fff" stroke="#000" stroke-width="1.15"/>
<line x1="516.14" y1="299.83" x2="516.14" y2="307.43" stroke="#000" stroke-width="1.7" />
<circle cx="536.02" cy="290.15" r="1.1" fill="#fff" stroke="#000" stroke-width="1.15"/>
<circle cx="554.21" cy="279.65" r="1.1" fill="#fff" stroke="#000" stroke-width="1.15"/>
<circle cx="567.54" cy="271.95" r="1.1" fill="#fff" stroke="#000" stroke-width="1.15"/>
<circle cx="579.41" cy="265.1" r="1.1" fill="#fff" stroke="#000" stroke-width="1.15"/>
<line x1="572.83" y1="267.1" x2="572.83" y2="274.7" stroke="#000" stroke-width="1.7" />
<circle cx="592.71" cy="257.42" r="1.1" fill="#fff" stroke="#000" stroke-width="1.15"/>
<circle cx="610.9" cy="246.92" r="1.1" fill="#fff" stroke="#000" stroke-width="1.15"/>
<circle cx="624.23" cy="239.22" r="1.1" fill="#fff" stroke="#000" stroke-width="1.15"/>
<circle cx="636.1" cy="232.37" r="1.1" fill="#fff" stroke="#000" stroke-width="1.15"/>
<line x1="629.52" y1="234.37" x2="629.52" y2="241.97" stroke="#000" stroke-width="1.7" />
<circle cx="649.4" cy="224.69" r="1.1" fill="#fff" stroke="#000" stroke-width="1.15"/>
<circle cx="667.59" cy="214.19" r="1.1" fill="#fff" stroke="#000" stroke-width="1.15"/>
<circle cx="680.92" cy="206.49" r="1.1" fill="#fff" stroke="#000" stroke-width="1.15"/>
<circle cx="692.79" cy="199.64" r="1.1" fill="#fff" stroke="#000" stroke-width="1.15"/>
<line x1="686.21" y1="201.64" x2="686.21" y2="209.24" stroke="#000" stroke-width="1.7" />
<circle cx="706.09" cy="191.96" r="1.1" fill="#fff" stroke="#000" stroke-width="1.15"/>
<circle cx="724.28" cy="181.46" r="1.1" fill="#fff" stroke="#000" stroke-width="1.15"/>
<circle cx="737.61" cy="173.76" r="1.1" fill="#fff" stroke="#000" stroke-width="1.15"/>
<circle cx="749.48" cy="166.91" r="1.1" fill="#fff" stroke="#000" stroke-width="1.15"/>
<line x1="742.9" y1="168.91" x2="742.9" y2="176.51" stroke="#000" stroke-width="1.7" />
<circle cx="762.78" cy="159.23" r="1.1" fill="#fff" stroke="#000" stroke-width="1.15"/>
<circle cx="780.97" cy="148.73" r="1.1" fill="#fff" stroke="#000" stroke-width="1.15"/>
<circle cx="794.3" cy="141.03" r="1.1" fill="#fff" stroke="#000" stroke-width="1.15"/>
<circle cx="806.17" cy="134.18" r="1.1" fill="#fff" stroke="#000" stroke-width="1.15"/>
<line x1="799.59" y1="136.18" x2="799.59" y2="143.78" stroke="#000" stroke-width="1.7" />
<circle cx="819.47" cy="126.5" r="1.1" fill="#fff" stroke="#000" stroke-width="1.15"/>
<path d="M291.26 422.8 V412.7 Q291.56 409.7 294.36 409" fill="none" stroke="#242424" stroke-width="1.5"/>
<path d="M296.76 409 Q298.46 410.2 298.46 413.9 V427.8 Q298.46 430.8 294.96 430.8" fill="none" stroke="#242424" stroke-width="1.5"/>
<path d="M291.26 422.2 V413.2" fill="none" stroke="#bbb" stroke-width="0.4"/>
<path d="M298.46 427.2 V414.2" fill="none" stroke="#bbb" stroke-width="0.4"/>
<rect x="294.41" y="289.2" width="2.3" height="109" fill="#5e5e5e" stroke="#141414" stroke-width="0.65"/>
<rect x="293.16" y="397.8" width="4.8" height="6.9" fill="#262626"/>
<rect x="293.86" y="401.8" width="3.4" height="0.8" fill="#888"/>
<rect x="293.66" y="404.6" width="3.8" height="5.4" fill="#333"/>
<rect x="295.11" y="405.6" width="0.9" height="3.6" fill="#999"/>
<path d="M744.1 161.35 V151.25 Q744.4 148.25 747.2 147.55" fill="none" stroke="#242424" stroke-width="1.5"/>
<path d="M749.6 147.55 Q751.3 148.75 751.3 152.45 V166.35 Q751.3 169.35 747.8 169.35" fill="none" stroke="#242424" stroke-width="1.5"/>
<path d="M744.1 160.75 V151.75" fill="none" stroke="#bbb" stroke-width="0.4"/>
<path d="M751.3 165.75 V152.75" fill="none" stroke="#bbb" stroke-width="0.4"/>
<rect x="747.25" y="31.45" width="2.3" height="105.3" fill="#5e5e5e" stroke="#141414" stroke-width="0.65"/>
<rect x="746" y="136.35" width="4.8" height="6.9" fill="#262626"/>
<rect x="746.7" y="140.35" width="3.4" height="0.8" fill="#888"/>
<rect x="746.5" y="143.15" width="3.8" height="5.4" fill="#333"/>
<rect x="747.95" y="144.15" width="0.9" height="3.6" fill="#999"/>
<polygon points="352.25,401.05 575.34,529.85 569.97,542.55 343.42,411.75 345.15,410.75 345.15,401.15" fill="#fff" stroke="none" stroke-width="0" />
<line x1="352.42" y1="401.15" x2="575.34" y2="529.85" stroke="#000" stroke-width="1.0" />
<line x1="348.79" y1="400.55" x2="574.04" y2="530.6" stroke="#000" stroke-width="1.25" />
<line x1="345.15" y1="401.15" x2="571.7" y2="531.95" stroke="#000" stroke-width="1.0" />
<line x1="343.42" y1="408.45" x2="569.97" y2="539.25" stroke="#000" stroke-width="1.0" />
<line x1="343.42" y1="411.75" x2="569.97" y2="542.55" stroke="#000" stroke-width="1.0" />
<line x1="345.15" y1="400.85" x2="345.15" y2="411.75" stroke="#000" stroke-width="1.0" />
<circle cx="349.91" cy="408.5" r="0.9" fill="#000"/>
<polygon points="692.51,204.6 915.6,333.4 910.23,346.1 683.68,215.3 685.41,214.3 685.41,204.7" fill="#fff" stroke="none" stroke-width="0" />
<line x1="692.68" y1="204.7" x2="915.6" y2="333.4" stroke="#000" stroke-width="1.0" />
<line x1="689.05" y1="204.1" x2="914.3" y2="334.15" stroke="#000" stroke-width="1.25" />
<line x1="685.41" y1="204.7" x2="911.96" y2="335.5" stroke="#000" stroke-width="1.0" />
<line x1="683.68" y1="212" x2="910.23" y2="342.8" stroke="#000" stroke-width="1.0" />
<line x1="683.68" y1="215.3" x2="910.23" y2="346.1" stroke="#000" stroke-width="1.0" />
<line x1="685.41" y1="204.4" x2="685.41" y2="215.3" stroke="#000" stroke-width="1.0" />
<circle cx="690.17" cy="212.05" r="0.9" fill="#000"/>
<polygon points="434.52,601.35 1049.23,246.45 1051.13,247.55 1051.13,252.65 1050.44,252.25 1050.44,263.95 1054.51,266.3 1054.51,267.8 439.81,622.7 431.14,617.7 431.14,616.2 435.22,618.55 435.22,606.85 434.52,606.45" fill="#fff" stroke="#000" stroke-width="1.1" />
<line x1="436.43" y1="602.45" x2="1051.13" y2="247.55" stroke="#000" stroke-width="1.1" />
<line x1="436.43" y1="607.55" x2="1051.13" y2="252.65" stroke="#000" stroke-width="1.1" />
<line x1="435.73" y1="619.65" x2="1050.44" y2="264.75" stroke="#000" stroke-width="1.1" />
<line x1="439.81" y1="622.15" x2="1054.51" y2="267.25" stroke="#000" stroke-width="1.1" />
<polyline points="434.52,601.35 436.43,602.45 436.43,607.55 435.73,607.15 435.73,618.85 439.81,621.2 439.81,622.7" fill="none" stroke="#000" stroke-width="1.1" />
<polygon points="434.52,601.35 436.43,602.45 436.43,607.55 434.52,606.45" fill="#777" stroke="#000" stroke-width="0.8" />
<line x1="435.22" y1="618.55" x2="435.22" y2="606.85" stroke="#000" stroke-width="1.1" />
<polyline points="1051.13,247.55 1051.13,252.65 1050.44,252.25 1050.44,263.95" fill="none" stroke="#000" stroke-width="1.1" />
<circle cx="440.88" cy="606.98" r="1.1" fill="#fff" stroke="#000" stroke-width="1.15"/>
<circle cx="454.22" cy="599.28" r="1.1" fill="#fff" stroke="#000" stroke-width="1.15"/>
<circle cx="466.08" cy="592.43" r="1.1" fill="#fff" stroke="#000" stroke-width="1.15"/>
<circle cx="479.38" cy="584.75" r="1.1" fill="#fff" stroke="#000" stroke-width="1.15"/>
<circle cx="497.57" cy="574.25" r="1.1" fill="#fff" stroke="#000" stroke-width="1.15"/>
<circle cx="510.91" cy="566.55" r="1.1" fill="#fff" stroke="#000" stroke-width="1.15"/>
<circle cx="522.77" cy="559.7" r="1.1" fill="#fff" stroke="#000" stroke-width="1.15"/>
<line x1="516.19" y1="561.7" x2="516.19" y2="569.3" stroke="#000" stroke-width="1.7" />
<circle cx="536.07" cy="552.02" r="1.1" fill="#fff" stroke="#000" stroke-width="1.15"/>
<circle cx="554.26" cy="541.52" r="1.1" fill="#fff" stroke="#000" stroke-width="1.15"/>
<circle cx="567.6" cy="533.82" r="1.1" fill="#fff" stroke="#000" stroke-width="1.15"/>
<circle cx="579.46" cy="526.97" r="1.1" fill="#fff" stroke="#000" stroke-width="1.15"/>
<line x1="572.88" y1="528.97" x2="572.88" y2="536.57" stroke="#000" stroke-width="1.7" />
<circle cx="592.76" cy="519.29" r="1.1" fill="#fff" stroke="#000" stroke-width="1.15"/>
<circle cx="610.95" cy="508.79" r="1.1" fill="#fff" stroke="#000" stroke-width="1.15"/>
<circle cx="624.29" cy="501.09" r="1.1" fill="#fff" stroke="#000" stroke-width="1.15"/>
<circle cx="636.15" cy="494.24" r="1.1" fill="#fff" stroke="#000" stroke-width="1.15"/>
<line x1="629.57" y1="496.24" x2="629.57" y2="503.84" stroke="#000" stroke-width="1.7" />
<circle cx="649.45" cy="486.56" r="1.1" fill="#fff" stroke="#000" stroke-width="1.15"/>
<circle cx="667.64" cy="476.06" r="1.1" fill="#fff" stroke="#000" stroke-width="1.15"/>
<circle cx="680.98" cy="468.36" r="1.1" fill="#fff" stroke="#000" stroke-width="1.15"/>
<circle cx="692.84" cy="461.51" r="1.1" fill="#fff" stroke="#000" stroke-width="1.15"/>
<line x1="686.26" y1="463.51" x2="686.26" y2="471.11" stroke="#000" stroke-width="1.7" />
<circle cx="706.14" cy="453.83" r="1.1" fill="#fff" stroke="#000" stroke-width="1.15"/>
<circle cx="724.33" cy="443.33" r="1.1" fill="#fff" stroke="#000" stroke-width="1.15"/>
<circle cx="737.67" cy="435.63" r="1.1" fill="#fff" stroke="#000" stroke-width="1.15"/>
<circle cx="749.53" cy="428.78" r="1.1" fill="#fff" stroke="#000" stroke-width="1.15"/>
<line x1="742.95" y1="430.78" x2="742.95" y2="438.38" stroke="#000" stroke-width="1.7" />
<circle cx="762.83" cy="421.1" r="1.1" fill="#fff" stroke="#000" stroke-width="1.15"/>
<circle cx="781.02" cy="410.6" r="1.1" fill="#fff" stroke="#000" stroke-width="1.15"/>
<circle cx="794.36" cy="402.9" r="1.1" fill="#fff" stroke="#000" stroke-width="1.15"/>
<circle cx="806.22" cy="396.05" r="1.1" fill="#fff" stroke="#000" stroke-width="1.15"/>
<line x1="799.64" y1="398.05" x2="799.64" y2="405.65" stroke="#000" stroke-width="1.7" />
<circle cx="819.52" cy="388.37" r="1.1" fill="#fff" stroke="#000" stroke-width="1.15"/>
<circle cx="837.71" cy="377.87" r="1.1" fill="#fff" stroke="#000" stroke-width="1.15"/>
<circle cx="851.05" cy="370.17" r="1.1" fill="#fff" stroke="#000" stroke-width="1.15"/>
<circle cx="862.91" cy="363.32" r="1.1" fill="#fff" stroke="#000" stroke-width="1.15"/>
<line x1="856.33" y1="365.32" x2="856.33" y2="372.92" stroke="#000" stroke-width="1.7" />
<circle cx="876.21" cy="355.64" r="1.1" fill="#fff" stroke="#000" stroke-width="1.15"/>
<circle cx="894.4" cy="345.14" r="1.1" fill="#fff" stroke="#000" stroke-width="1.15"/>
<circle cx="907.74" cy="337.44" r="1.1" fill="#fff" stroke="#000" stroke-width="1.15"/>
<circle cx="919.6" cy="330.59" r="1.1" fill="#fff" stroke="#000" stroke-width="1.15"/>
<line x1="913.02" y1="332.59" x2="913.02" y2="340.19" stroke="#000" stroke-width="1.7" />
<circle cx="932.9" cy="322.91" r="1.1" fill="#fff" stroke="#000" stroke-width="1.15"/>
<circle cx="951.09" cy="312.41" r="1.1" fill="#fff" stroke="#000" stroke-width="1.15"/>
<circle cx="964.43" cy="304.71" r="1.1" fill="#fff" stroke="#000" stroke-width="1.15"/>
<circle cx="976.29" cy="297.86" r="1.1" fill="#fff" stroke="#000" stroke-width="1.15"/>
<line x1="969.71" y1="299.86" x2="969.71" y2="307.46" stroke="#000" stroke-width="1.7" />
<circle cx="989.59" cy="290.18" r="1.1" fill="#fff" stroke="#000" stroke-width="1.15"/>
<circle cx="1007.78" cy="279.68" r="1.1" fill="#fff" stroke="#000" stroke-width="1.15"/>
<circle cx="1021.12" cy="271.98" r="1.1" fill="#fff" stroke="#000" stroke-width="1.15"/>
<circle cx="1032.98" cy="265.13" r="1.1" fill="#fff" stroke="#000" stroke-width="1.15"/>
<line x1="1026.4" y1="267.13" x2="1026.4" y2="274.73" stroke="#000" stroke-width="1.7" />
<circle cx="1046.28" cy="257.45" r="1.1" fill="#fff" stroke="#000" stroke-width="1.15"/>
<path d="M518.07 553.75 V543.65 Q518.37 540.65 521.17 539.95" fill="none" stroke="#242424" stroke-width="1.5"/>
<path d="M523.57 539.95 Q525.27 541.15 525.27 544.85 V558.75 Q525.27 561.75 521.77 561.75" fill="none" stroke="#242424" stroke-width="1.5"/>
<path d="M518.07 553.15 V544.15" fill="none" stroke="#bbb" stroke-width="0.4"/>
<path d="M525.27 558.15 V545.15" fill="none" stroke="#bbb" stroke-width="0.4"/>
<rect x="521.22" y="420.15" width="2.3" height="109" fill="#5e5e5e" stroke="#141414" stroke-width="0.65"/>
<rect x="519.97" y="528.75" width="4.8" height="6.9" fill="#262626"/>
<rect x="520.67" y="532.75" width="3.4" height="0.8" fill="#888"/>
<rect x="520.47" y="535.55" width="3.8" height="5.4" fill="#333"/>
<rect x="521.92" y="536.55" width="0.9" height="3.6" fill="#999"/>
<path d="M970.92 292.3 V282.2 Q971.22 279.2 974.02 278.5" fill="none" stroke="#242424" stroke-width="1.5"/>
<path d="M976.42 278.5 Q978.12 279.7 978.12 283.4 V297.3 Q978.12 300.3 974.62 300.3" fill="none" stroke="#242424" stroke-width="1.5"/>
<path d="M970.92 291.7 V282.7" fill="none" stroke="#bbb" stroke-width="0.4"/>
<path d="M978.12 296.7 V283.7" fill="none" stroke="#bbb" stroke-width="0.4"/>
<rect x="974.07" y="158.7" width="2.3" height="109" fill="#5e5e5e" stroke="#141414" stroke-width="0.65"/>
<rect x="972.82" y="267.3" width="4.8" height="6.9" fill="#262626"/>
<rect x="973.52" y="271.3" width="3.4" height="0.8" fill="#888"/>
<rect x="973.32" y="274.1" width="3.8" height="5.4" fill="#333"/>
<rect x="974.77" y="275.1" width="0.9" height="3.6" fill="#999"/>
<polygon points="579.06,532 802.15,660.8 796.78,673.5 570.23,542.7 571.96,541.7 571.96,532.1" fill="#fff" stroke="none" stroke-width="0" />
<line x1="579.24" y1="532.1" x2="802.15" y2="660.8" stroke="#000" stroke-width="1.0" />
<line x1="575.6" y1="531.5" x2="800.85" y2="661.55" stroke="#000" stroke-width="1.25" />
<line x1="571.96" y1="532.1" x2="798.51" y2="662.9" stroke="#000" stroke-width="1.0" />
<line x1="570.23" y1="539.4" x2="796.78" y2="670.2" stroke="#000" stroke-width="1.0" />
<line x1="570.23" y1="542.7" x2="796.78" y2="673.5" stroke="#000" stroke-width="1.0" />
<line x1="571.96" y1="531.8" x2="571.96" y2="542.7" stroke="#000" stroke-width="1.0" />
<circle cx="576.72" cy="539.45" r="0.9" fill="#000"/>
<polygon points="919.32,335.55 1142.41,464.35 1137.04,477.05 910.49,346.25 912.22,345.25 912.22,335.65" fill="#fff" stroke="none" stroke-width="0" />
<line x1="919.5" y1="335.65" x2="1142.41" y2="464.35" stroke="#000" stroke-width="1.0" />
<line x1="915.86" y1="335.05" x2="1141.11" y2="465.1" stroke="#000" stroke-width="1.25" />
<line x1="912.22" y1="335.65" x2="1138.77" y2="466.45" stroke="#000" stroke-width="1.0" />
<line x1="910.49" y1="342.95" x2="1137.04" y2="473.75" stroke="#000" stroke-width="1.0" />
<line x1="910.49" y1="346.25" x2="1137.04" y2="477.05" stroke="#000" stroke-width="1.0" />
<line x1="912.22" y1="335.35" x2="912.22" y2="346.25" stroke="#000" stroke-width="1.0" />
<circle cx="916.99" cy="343" r="0.9" fill="#000"/>
<polygon points="661.33,732.3 1276.04,377.4 1277.94,378.5 1277.94,383.6 1277.25,383.2 1277.25,394.9 1281.32,397.25 1281.32,398.75 666.62,753.65 657.96,748.65 657.96,747.15 662.03,749.5 662.03,737.8 661.33,737.4" fill="#fff" stroke="#000" stroke-width="1.1" />
<line x1="663.24" y1="733.4" x2="1277.94" y2="378.5" stroke="#000" stroke-width="1.1" />
<line x1="663.24" y1="738.5" x2="1277.94" y2="383.6" stroke="#000" stroke-width="1.1" />
<line x1="662.55" y1="750.6" x2="1277.25" y2="395.7" stroke="#000" stroke-width="1.1" />
<line x1="666.62" y1="753.1" x2="1281.32" y2="398.2" stroke="#000" stroke-width="1.1" />
<polyline points="661.33,732.3 663.24,733.4 663.24,738.5 662.55,738.1 662.55,749.8 666.62,752.15 666.62,753.65" fill="none" stroke="#000" stroke-width="1.1" />
<polygon points="661.33,732.3 663.24,733.4 663.24,738.5 661.33,737.4" fill="#777" stroke="#000" stroke-width="0.8" />
<line x1="662.03" y1="749.5" x2="662.03" y2="737.8" stroke="#000" stroke-width="1.1" />
<polyline points="1277.94,378.5 1277.94,383.6 1277.25,383.2 1277.25,394.9" fill="none" stroke="#000" stroke-width="1.1" />
<circle cx="667.69" cy="737.93" r="1.1" fill="#fff" stroke="#000" stroke-width="1.15"/>
<circle cx="681.03" cy="730.23" r="1.1" fill="#fff" stroke="#000" stroke-width="1.15"/>
<circle cx="692.89" cy="723.38" r="1.1" fill="#fff" stroke="#000" stroke-width="1.15"/>
<circle cx="706.19" cy="715.7" r="1.1" fill="#fff" stroke="#000" stroke-width="1.15"/>
<circle cx="724.38" cy="705.2" r="1.1" fill="#fff" stroke="#000" stroke-width="1.15"/>
<circle cx="737.72" cy="697.5" r="1.1" fill="#fff" stroke="#000" stroke-width="1.15"/>
<circle cx="749.58" cy="690.65" r="1.1" fill="#fff" stroke="#000" stroke-width="1.15"/>
<line x1="743" y1="692.65" x2="743" y2="700.25" stroke="#000" stroke-width="1.7" />
<circle cx="762.88" cy="682.97" r="1.1" fill="#fff" stroke="#000" stroke-width="1.15"/>
<circle cx="781.07" cy="672.47" r="1.1" fill="#fff" stroke="#000" stroke-width="1.15"/>
<circle cx="794.41" cy="664.77" r="1.1" fill="#fff" stroke="#000" stroke-width="1.15"/>
<circle cx="806.27" cy="657.92" r="1.1" fill="#fff" stroke="#000" stroke-width="1.15"/>
<line x1="799.69" y1="659.92" x2="799.69" y2="667.52" stroke="#000" stroke-width="1.7" />
<circle cx="819.57" cy="650.24" r="1.1" fill="#fff" stroke="#000" stroke-width="1.15"/>
<circle cx="837.76" cy="639.74" r="1.1" fill="#fff" stroke="#000" stroke-width="1.15"/>
<circle cx="851.1" cy="632.04" r="1.1" fill="#fff" stroke="#000" stroke-width="1.15"/>
<circle cx="862.96" cy="625.19" r="1.1" fill="#fff" stroke="#000" stroke-width="1.15"/>
<line x1="856.38" y1="627.19" x2="856.38" y2="634.79" stroke="#000" stroke-width="1.7" />
<circle cx="876.26" cy="617.51" r="1.1" fill="#fff" stroke="#000" stroke-width="1.15"/>
<circle cx="894.45" cy="607.01" r="1.1" fill="#fff" stroke="#000" stroke-width="1.15"/>
<circle cx="907.79" cy="599.31" r="1.1" fill="#fff" stroke="#000" stroke-width="1.15"/>
<circle cx="919.65" cy="592.46" r="1.1" fill="#fff" stroke="#000" stroke-width="1.15"/>
<line x1="913.07" y1="594.46" x2="913.07" y2="602.06" stroke="#000" stroke-width="1.7" />
<circle cx="932.95" cy="584.78" r="1.1" fill="#fff" stroke="#000" stroke-width="1.15"/>
<circle cx="951.14" cy="574.28" r="1.1" fill="#fff" stroke="#000" stroke-width="1.15"/>
<circle cx="964.48" cy="566.58" r="1.1" fill="#fff" stroke="#000" stroke-width="1.15"/>
<circle cx="976.34" cy="559.73" r="1.1" fill="#fff" stroke="#000" stroke-width="1.15"/>
<line x1="969.76" y1="561.73" x2="969.76" y2="569.33" stroke="#000" stroke-width="1.7" />
<circle cx="989.64" cy="552.05" r="1.1" fill="#fff" stroke="#000" stroke-width="1.15"/>
<circle cx="1007.83" cy="541.55" r="1.1" fill="#fff" stroke="#000" stroke-width="1.15"/>
<circle cx="1021.17" cy="533.85" r="1.1" fill="#fff" stroke="#000" stroke-width="1.15"/>
<circle cx="1033.03" cy="527" r="1.1" fill="#fff" stroke="#000" stroke-width="1.15"/>
<line x1="1026.45" y1="529" x2="1026.45" y2="536.6" stroke="#000" stroke-width="1.7" />
<circle cx="1046.33" cy="519.32" r="1.1" fill="#fff" stroke="#000" stroke-width="1.15"/>
<circle cx="1064.52" cy="508.82" r="1.1" fill="#fff" stroke="#000" stroke-width="1.15"/>
<circle cx="1077.86" cy="501.12" r="1.1" fill="#fff" stroke="#000" stroke-width="1.15"/>
<circle cx="1089.72" cy="494.27" r="1.1" fill="#fff" stroke="#000" stroke-width="1.15"/>
<line x1="1083.14" y1="496.27" x2="1083.14" y2="503.87" stroke="#000" stroke-width="1.7" />
<circle cx="1103.02" cy="486.59" r="1.1" fill="#fff" stroke="#000" stroke-width="1.15"/>
<circle cx="1121.21" cy="476.09" r="1.1" fill="#fff" stroke="#000" stroke-width="1.15"/>
<circle cx="1134.55" cy="468.39" r="1.1" fill="#fff" stroke="#000" stroke-width="1.15"/>
<circle cx="1146.41" cy="461.54" r="1.1" fill="#fff" stroke="#000" stroke-width="1.15"/>
<line x1="1139.83" y1="463.54" x2="1139.83" y2="471.14" stroke="#000" stroke-width="1.7" />
<circle cx="1159.71" cy="453.86" r="1.1" fill="#fff" stroke="#000" stroke-width="1.15"/>
<circle cx="1177.9" cy="443.36" r="1.1" fill="#fff" stroke="#000" stroke-width="1.15"/>
<circle cx="1191.24" cy="435.66" r="1.1" fill="#fff" stroke="#000" stroke-width="1.15"/>
<circle cx="1203.1" cy="428.81" r="1.1" fill="#fff" stroke="#000" stroke-width="1.15"/>
<line x1="1196.52" y1="430.81" x2="1196.52" y2="438.41" stroke="#000" stroke-width="1.7" />
<circle cx="1216.4" cy="421.13" r="1.1" fill="#fff" stroke="#000" stroke-width="1.15"/>
<circle cx="1234.59" cy="410.63" r="1.1" fill="#fff" stroke="#000" stroke-width="1.15"/>
<circle cx="1247.93" cy="402.93" r="1.1" fill="#fff" stroke="#000" stroke-width="1.15"/>
<circle cx="1259.79" cy="396.08" r="1.1" fill="#fff" stroke="#000" stroke-width="1.15"/>
<line x1="1253.21" y1="398.08" x2="1253.21" y2="405.68" stroke="#000" stroke-width="1.7" />
<circle cx="1273.09" cy="388.4" r="1.1" fill="#fff" stroke="#000" stroke-width="1.15"/>
<path d="M744.88 684.7 V674.6 Q745.18 671.6 747.98 670.9" fill="none" stroke="#242424" stroke-width="1.5"/>
<path d="M750.38 670.9 Q752.08 672.1 752.08 675.8 V689.7 Q752.08 692.7 748.58 692.7" fill="none" stroke="#242424" stroke-width="1.5"/>
<path d="M744.88 684.1 V675.1" fill="none" stroke="#bbb" stroke-width="0.4"/>
<path d="M752.08 689.1 V676.1" fill="none" stroke="#bbb" stroke-width="0.4"/>
<rect x="748.03" y="551.1" width="2.3" height="109" fill="#5e5e5e" stroke="#141414" stroke-width="0.65"/>
<rect x="746.78" y="659.7" width="4.8" height="6.9" fill="#262626"/>
<rect x="747.48" y="663.7" width="3.4" height="0.8" fill="#888"/>
<rect x="747.28" y="666.5" width="3.8" height="5.4" fill="#333"/>
<rect x="748.73" y="667.5" width="0.9" height="3.6" fill="#999"/>
<path d="M1197.73 423.25 V413.15 Q1198.03 410.15 1200.83 409.45" fill="none" stroke="#242424" stroke-width="1.5"/>
<path d="M1203.23 409.45 Q1204.93 410.65 1204.93 414.35 V428.25 Q1204.93 431.25 1201.43 431.25" fill="none" stroke="#242424" stroke-width="1.5"/>
<path d="M1197.73 422.65 V413.65" fill="none" stroke="#bbb" stroke-width="0.4"/>
<path d="M1204.93 427.65 V414.65" fill="none" stroke="#bbb" stroke-width="0.4"/>
<rect x="1200.88" y="289.65" width="2.3" height="109" fill="#5e5e5e" stroke="#141414" stroke-width="0.65"/>
<rect x="1199.63" y="398.25" width="4.8" height="6.9" fill="#262626"/>
<rect x="1200.33" y="402.25" width="3.4" height="0.8" fill="#888"/>
<rect x="1200.13" y="405.05" width="3.8" height="5.4" fill="#333"/>
<rect x="1201.58" y="406.05" width="0.9" height="3.6" fill="#999"/>
<polygon points="805.87,662.95 1028.96,791.75 1023.59,804.45 797.04,673.65 798.77,672.65 798.77,663.05" fill="#fff" stroke="none" stroke-width="0" />
<line x1="806.05" y1="663.05" x2="1028.96" y2="791.75" stroke="#000" stroke-width="1.0" />
<line x1="802.41" y1="662.45" x2="1027.66" y2="792.5" stroke="#000" stroke-width="1.25" />
<line x1="798.77" y1="663.05" x2="1025.32" y2="793.85" stroke="#000" stroke-width="1.0" />
<line x1="797.04" y1="670.35" x2="1023.59" y2="801.15" stroke="#000" stroke-width="1.0" />
<line x1="797.04" y1="673.65" x2="1023.59" y2="804.45" stroke="#000" stroke-width="1.0" />
<line x1="798.77" y1="662.75" x2="798.77" y2="673.65" stroke="#000" stroke-width="1.0" />
<circle cx="803.54" cy="670.4" r="0.9" fill="#000"/>
<polygon points="1146.14,466.5 1369.22,595.3 1363.85,608 1137.3,477.2 1139.03,476.2 1139.03,466.6" fill="#fff" stroke="none" stroke-width="0" />
<line x1="1146.31" y1="466.6" x2="1369.22" y2="595.3" stroke="#000" stroke-width="1.0" />
<line x1="1142.67" y1="466" x2="1367.92" y2="596.05" stroke="#000" stroke-width="1.25" />
<line x1="1139.03" y1="466.6" x2="1365.59" y2="597.4" stroke="#000" stroke-width="1.0" />
<line x1="1137.3" y1="473.9" x2="1363.85" y2="604.7" stroke="#000" stroke-width="1.0" />
<line x1="1137.3" y1="477.2" x2="1363.85" y2="608" stroke="#000" stroke-width="1.0" />
<line x1="1139.03" y1="466.3" x2="1139.03" y2="477.2" stroke="#000" stroke-width="1.0" />
<circle cx="1143.8" cy="473.95" r="0.9" fill="#000"/>
<polygon points="888.15,863.25 1502.85,508.35 1504.76,509.45 1504.76,514.55 1504.06,514.15 1504.06,525.85 1508.13,528.2 1508.13,529.7 893.43,884.6 884.77,879.6 884.77,878.1 888.84,880.45 888.84,868.75 888.15,868.35" fill="#fff" stroke="#000" stroke-width="1.1" />
<line x1="890.05" y1="864.35" x2="1504.76" y2="509.45" stroke="#000" stroke-width="1.1" />
<line x1="890.05" y1="869.45" x2="1504.76" y2="514.55" stroke="#000" stroke-width="1.1" />
<line x1="889.36" y1="881.55" x2="1504.06" y2="526.65" stroke="#000" stroke-width="1.1" />
<line x1="893.43" y1="884.05" x2="1508.13" y2="529.15" stroke="#000" stroke-width="1.1" />
<polyline points="888.15,863.25 890.05,864.35 890.05,869.45 889.36,869.05 889.36,880.75 893.43,883.1 893.43,884.6" fill="none" stroke="#000" stroke-width="1.1" />
<polygon points="888.15,863.25 890.05,864.35 890.05,869.45 888.15,868.35" fill="#777" stroke="#000" stroke-width="0.8" />
<line x1="888.84" y1="880.45" x2="888.84" y2="868.75" stroke="#000" stroke-width="1.1" />
<polyline points="1504.76,509.45 1504.76,514.55 1504.06,514.15 1504.06,525.85" fill="none" stroke="#000" stroke-width="1.1" />
<circle cx="894.5" cy="868.88" r="1.1" fill="#fff" stroke="#000" stroke-width="1.15"/>
<circle cx="907.84" cy="861.18" r="1.1" fill="#fff" stroke="#000" stroke-width="1.15"/>
<circle cx="919.7" cy="854.33" r="1.1" fill="#fff" stroke="#000" stroke-width="1.15"/>
<circle cx="933.01" cy="846.65" r="1.1" fill="#fff" stroke="#000" stroke-width="1.15"/>
<circle cx="951.19" cy="836.15" r="1.1" fill="#fff" stroke="#000" stroke-width="1.15"/>
<circle cx="964.53" cy="828.45" r="1.1" fill="#fff" stroke="#000" stroke-width="1.15"/>
<circle cx="976.39" cy="821.6" r="1.1" fill="#fff" stroke="#000" stroke-width="1.15"/>
<line x1="969.81" y1="823.6" x2="969.81" y2="831.2" stroke="#000" stroke-width="1.7" />
<circle cx="989.7" cy="813.92" r="1.1" fill="#fff" stroke="#000" stroke-width="1.15"/>
<circle cx="1007.88" cy="803.42" r="1.1" fill="#fff" stroke="#000" stroke-width="1.15"/>
<circle cx="1021.22" cy="795.72" r="1.1" fill="#fff" stroke="#000" stroke-width="1.15"/>
<circle cx="1033.08" cy="788.87" r="1.1" fill="#fff" stroke="#000" stroke-width="1.15"/>
<line x1="1026.5" y1="790.87" x2="1026.5" y2="798.47" stroke="#000" stroke-width="1.7" />
<circle cx="1046.39" cy="781.19" r="1.1" fill="#fff" stroke="#000" stroke-width="1.15"/>
<circle cx="1064.57" cy="770.69" r="1.1" fill="#fff" stroke="#000" stroke-width="1.15"/>
<circle cx="1077.91" cy="762.99" r="1.1" fill="#fff" stroke="#000" stroke-width="1.15"/>
<circle cx="1089.77" cy="756.14" r="1.1" fill="#fff" stroke="#000" stroke-width="1.15"/>
<line x1="1083.19" y1="758.14" x2="1083.19" y2="765.74" stroke="#000" stroke-width="1.7" />
<circle cx="1103.08" cy="748.46" r="1.1" fill="#fff" stroke="#000" stroke-width="1.15"/>
<circle cx="1121.26" cy="737.96" r="1.1" fill="#fff" stroke="#000" stroke-width="1.15"/>
<circle cx="1134.6" cy="730.26" r="1.1" fill="#fff" stroke="#000" stroke-width="1.15"/>
<circle cx="1146.46" cy="723.41" r="1.1" fill="#fff" stroke="#000" stroke-width="1.15"/>
<line x1="1139.88" y1="725.41" x2="1139.88" y2="733.01" stroke="#000" stroke-width="1.7" />
<circle cx="1159.77" cy="715.73" r="1.1" fill="#fff" stroke="#000" stroke-width="1.15"/>
<circle cx="1177.95" cy="705.23" r="1.1" fill="#fff" stroke="#000" stroke-width="1.15"/>
<circle cx="1191.29" cy="697.53" r="1.1" fill="#fff" stroke="#000" stroke-width="1.15"/>
<circle cx="1203.15" cy="690.68" r="1.1" fill="#fff" stroke="#000" stroke-width="1.15"/>
<line x1="1196.57" y1="692.68" x2="1196.57" y2="700.28" stroke="#000" stroke-width="1.7" />
<circle cx="1216.46" cy="683" r="1.1" fill="#fff" stroke="#000" stroke-width="1.15"/>
<circle cx="1234.64" cy="672.5" r="1.1" fill="#fff" stroke="#000" stroke-width="1.15"/>
<circle cx="1247.98" cy="664.8" r="1.1" fill="#fff" stroke="#000" stroke-width="1.15"/>
<circle cx="1259.84" cy="657.95" r="1.1" fill="#fff" stroke="#000" stroke-width="1.15"/>
<line x1="1253.26" y1="659.95" x2="1253.26" y2="667.55" stroke="#000" stroke-width="1.7" />
<circle cx="1273.15" cy="650.27" r="1.1" fill="#fff" stroke="#000" stroke-width="1.15"/>
<circle cx="1291.33" cy="639.77" r="1.1" fill="#fff" stroke="#000" stroke-width="1.15"/>
<circle cx="1304.67" cy="632.07" r="1.1" fill="#fff" stroke="#000" stroke-width="1.15"/>
<circle cx="1316.53" cy="625.22" r="1.1" fill="#fff" stroke="#000" stroke-width="1.15"/>
<line x1="1309.95" y1="627.22" x2="1309.95" y2="634.82" stroke="#000" stroke-width="1.7" />
<circle cx="1329.84" cy="617.54" r="1.1" fill="#fff" stroke="#000" stroke-width="1.15"/>
<circle cx="1348.02" cy="607.04" r="1.1" fill="#fff" stroke="#000" stroke-width="1.15"/>
<circle cx="1361.36" cy="599.34" r="1.1" fill="#fff" stroke="#000" stroke-width="1.15"/>
<circle cx="1373.22" cy="592.49" r="1.1" fill="#fff" stroke="#000" stroke-width="1.15"/>
<line x1="1366.64" y1="594.49" x2="1366.64" y2="602.09" stroke="#000" stroke-width="1.7" />
<circle cx="1386.53" cy="584.81" r="1.1" fill="#fff" stroke="#000" stroke-width="1.15"/>
<circle cx="1404.71" cy="574.31" r="1.1" fill="#fff" stroke="#000" stroke-width="1.15"/>
<circle cx="1418.05" cy="566.61" r="1.1" fill="#fff" stroke="#000" stroke-width="1.15"/>
<circle cx="1429.91" cy="559.76" r="1.1" fill="#fff" stroke="#000" stroke-width="1.15"/>
<line x1="1423.33" y1="561.76" x2="1423.33" y2="569.36" stroke="#000" stroke-width="1.7" />
<circle cx="1443.22" cy="552.08" r="1.1" fill="#fff" stroke="#000" stroke-width="1.15"/>
<circle cx="1461.4" cy="541.58" r="1.1" fill="#fff" stroke="#000" stroke-width="1.15"/>
<circle cx="1474.74" cy="533.88" r="1.1" fill="#fff" stroke="#000" stroke-width="1.15"/>
<circle cx="1486.6" cy="527.03" r="1.1" fill="#fff" stroke="#000" stroke-width="1.15"/>
<line x1="1480.02" y1="529.03" x2="1480.02" y2="536.63" stroke="#000" stroke-width="1.7" />
<circle cx="1499.91" cy="519.35" r="1.1" fill="#fff" stroke="#000" stroke-width="1.15"/>
<path d="M971.7 815.65 V805.55 Q972 802.55 974.8 801.85" fill="none" stroke="#242424" stroke-width="1.5"/>
<path d="M977.2 801.85 Q978.9 803.05 978.9 806.75 V820.65 Q978.9 823.65 975.4 823.65" fill="none" stroke="#242424" stroke-width="1.5"/>
<path d="M971.7 815.05 V806.05" fill="none" stroke="#bbb" stroke-width="0.4"/>
<path d="M978.9 820.05 V807.05" fill="none" stroke="#bbb" stroke-width="0.4"/>
<rect x="974.85" y="683.05" width="2.3" height="108" fill="#5e5e5e" stroke="#141414" stroke-width="0.65"/>
<rect x="973.6" y="790.65" width="4.8" height="6.9" fill="#262626"/>
<rect x="974.3" y="794.65" width="3.4" height="0.8" fill="#888"/>
<rect x="974.1" y="797.45" width="3.8" height="5.4" fill="#333"/>
<rect x="975.55" y="798.45" width="0.9" height="3.6" fill="#999"/>
<path d="M1424.54 554.2 V544.1 Q1424.84 541.1 1427.64 540.4" fill="none" stroke="#242424" stroke-width="1.5"/>
<path d="M1430.04 540.4 Q1431.74 541.6 1431.74 545.3 V559.2 Q1431.74 562.2 1428.24 562.2" fill="none" stroke="#242424" stroke-width="1.5"/>
<path d="M1424.54 553.6 V544.6" fill="none" stroke="#bbb" stroke-width="0.4"/>
<path d="M1431.74 558.6 V545.6" fill="none" stroke="#bbb" stroke-width="0.4"/>
<rect x="1427.69" y="420.6" width="2.3" height="109" fill="#5e5e5e" stroke="#141414" stroke-width="0.65"/>
<rect x="1426.44" y="529.2" width="4.8" height="6.9" fill="#262626"/>
<rect x="1427.14" y="533.2" width="3.4" height="0.8" fill="#888"/>
<rect x="1426.94" y="536" width="3.8" height="5.4" fill="#333"/>
<rect x="1428.39" y="537" width="0.9" height="3.6" fill="#999"/>
</g>
<g opacity="0.999">
<rect x="911.8" y="647" width="448" height="34.5" fill="#fff" transform="rotate(-29.35 913.8 673.2)"/>
<polyline points="1166.1,171 1154.5,171 1049.6,419" fill="none" stroke="#000" stroke-width="0.9"/>
<polyline points="1269.1,236.2 1257.5,236.2 1201.4,355.8" fill="none" stroke="#000" stroke-width="0.9"/>
<polyline points="1299.2,310.1 1287.4,310.1 1225.3,419" fill="none" stroke="#000" stroke-width="0.9"/>
<circle cx="1049.6" cy="419" r="1.1" fill="#111"/>
<circle cx="1225.3" cy="419" r="1.1" fill="#111"/>
<text x="1172.5" y="136.2" font-size="27.5">15/16” CROSS TEE 24” O.C.</text>
<text x="1172.5" y="169.4" font-size="27.5">MAX ALONG MAIN TEE</text>
<text x="1281.7" y="225" font-size="27.5">12 GA. HANGER WIRE OR</text>
<text x="1281.7" y="258.2" font-size="27.5">ROD BY OTHERS</text>
<text x="1310" y="314.2" font-size="27.5">15/16” HEAVY DUTY CLASS</text>
<text x="1310" y="346.6" font-size="27.5">MAIN TEE OR CROSS TEE</text>
<text x="1310" y="379.4" font-size="27.5">PER ASTM 653</text>
<line x1="279.3" y1="622.4" x2="280.6" y2="623.5" stroke="#333" stroke-width="1"/>
<line x1="355.1" y1="666.6" x2="582" y2="797.3" stroke="#000" stroke-width="0.95"/>
<polygon points="355.1,666.6 365.75,669.75 363.15,674.25" fill="#26265a" stroke="#000" stroke-width="0.7" stroke-linejoin="miter"/>
<polygon points="582,797.3 571.35,794.15 573.95,789.65" fill="#26265a" stroke="#000" stroke-width="0.7" stroke-linejoin="miter"/>
<line x1="435.4" y1="620.7" x2="344.4" y2="672.8" stroke="#000" stroke-width="0.95"/>
<line x1="662.2" y1="751.6" x2="571.3" y2="803.5" stroke="#000" stroke-width="0.95"/>
<text x="305" y="707" transform="rotate(30 305 707)" font-size="27.5">24” MAX MAIN TEE</text>
<text x="287.7" y="734" transform="rotate(30 287.7 734)" font-size="27.5">SPACING</text>
<line x1="808.1" y1="927.8" x2="922.7" y2="994" stroke="#000" stroke-width="0.95"/>
<polygon points="808.1,927.8 818.75,930.95 816.15,935.45" fill="#26265a" stroke="#000" stroke-width="0.7" stroke-linejoin="miter"/>
<polygon points="922.7,994 912.05,990.85 914.65,986.35" fill="#26265a" stroke="#000" stroke-width="0.7" stroke-linejoin="miter"/>
<line x1="887.1" y1="882" x2="797.8" y2="934.4" stroke="#000" stroke-width="0.95"/>
<line x1="1041.6" y1="925.9" x2="912.4" y2="999.9" stroke="#000" stroke-width="0.95"/>
<text x="741.4" y="953.3" transform="rotate(30 741.4 953.3)" font-size="27.2">19” MAX BAFFLE</text>
<text x="722.7" y="981.9" transform="rotate(30 722.7 981.9)" font-size="27.2">OVERHANG</text>
<line x1="975.2" y1="661.7" x2="1428.5" y2="401" stroke="#000" stroke-width="0.95"/>
<polygon points="975.2,661.7 985.39,652.35 988.39,657.55" fill="#26265a" stroke="#000" stroke-width="0.7" stroke-linejoin="miter"/>
<polygon points="1428.5,401 1419.12,409.76 1416.22,404.74" fill="#26265a" stroke="#000" stroke-width="0.7" stroke-linejoin="miter"/>
<line x1="1428.4" y1="392.9" x2="1428.4" y2="419.4" stroke="#000" stroke-width="0.95"/>
<line x1="975.2" y1="654" x2="975.2" y2="683" stroke="#000" stroke-width="0.95"/>
<text x="913.8" y="673.2" transform="rotate(-29.35 913.8 673.2)" font-size="27.55">48” MAX HANGER WIRE SPACING</text>
<line x1="1176.9" y1="943" x2="1176.9" y2="990.8" stroke="#000" stroke-width="0.95"/>
<line x1="1214.8" y1="920.9" x2="1214.8" y2="968.5" stroke="#000" stroke-width="0.95"/>
<line x1="1176.9" y1="988.7" x2="1232.3" y2="957.7" stroke="#000" stroke-width="0.95"/>
<polygon points="1176.9,988.7 1182.93,983.14 1184.73,986.26" fill="#26265a" stroke="#000" stroke-width="0.7" stroke-linejoin="miter"/>
<polygon points="1214.8,967.2 1208.77,972.76 1206.97,969.64" fill="#26265a" stroke="#000" stroke-width="0.7" stroke-linejoin="miter"/>
<text x="1237.6" y="1002.7" transform="rotate(-32.5 1237.6 1002.7)" font-size="27.5">6” BAFFLE SPACING SHOWN</text>
<text x="1255.5" y="1030.5" transform="rotate(-32.5 1255.5 1030.5)" font-size="27.5">ACTUAL CAN VARY</text>
</g>
</svg>
</body></html>
